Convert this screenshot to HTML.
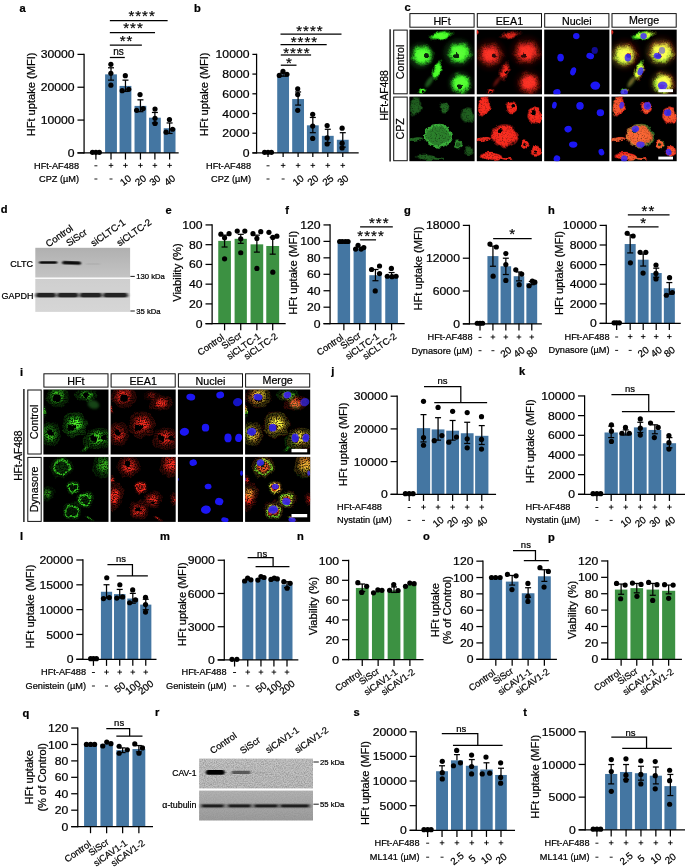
<!DOCTYPE html><html><head><meta charset="utf-8"><style>html,body{margin:0;padding:0;background:#fff}svg{display:block}text{font-family:"Liberation Sans",sans-serif;fill:#000;stroke:#000;stroke-width:0.22px}</style></head><body>
<svg width="685" height="867" viewBox="0 0 685 867">
<rect width="685" height="867" fill="#fff"/>
<defs>
<filter id="gtex" x="-15%" y="-15%" width="130%" height="130%" color-interpolation-filters="sRGB">
 <feTurbulence type="fractalNoise" baseFrequency="0.13" numOctaves="3" seed="5" result="lf"/>
 <feDisplacementMap in="SourceGraphic" in2="lf" scale="5" xChannelSelector="R" yChannelSelector="G" result="d"/>
 <feGaussianBlur in="d" stdDeviation="0.6" result="b"/>
 <feTurbulence type="fractalNoise" baseFrequency="0.75" numOctaves="2" seed="3" result="n"/>
 <feColorMatrix in="n" type="matrix" values="0 0 0 0 0  0 0 0 0 0  0 0 0 0 0  3.0 0 0 0 -0.7" result="na"/>
 <feComposite in="b" in2="na" operator="in" result="sp"/>
 <feComponentTransfer in="b" result="bd"><feFuncA type="table" tableValues="0 0.05 0.2 0.55 0.85 1"/></feComponentTransfer>
 <feMerge><feMergeNode in="bd"/><feMergeNode in="sp"/></feMerge>
</filter>
<filter id="stex" x="-15%" y="-15%" width="130%" height="130%" color-interpolation-filters="sRGB">
 <feTurbulence type="fractalNoise" baseFrequency="0.13" numOctaves="3" seed="5" result="lf"/>
 <feDisplacementMap in="SourceGraphic" in2="lf" scale="5" xChannelSelector="R" yChannelSelector="G" result="d"/>
 <feGaussianBlur in="d" stdDeviation="0.7" result="b"/>
 <feTurbulence type="fractalNoise" baseFrequency="0.7" numOctaves="2" seed="3" result="n"/>
 <feColorMatrix in="n" type="matrix" values="0 0 0 0 0  0 0 0 0 0  0 0 0 0 0  1.3 0 0 0 0.35" result="na"/>
 <feComposite in="b" in2="na" operator="in"/>
</filter>
<filter id="ptex" x="-15%" y="-15%" width="130%" height="130%" color-interpolation-filters="sRGB">
 <feTurbulence type="fractalNoise" baseFrequency="0.13" numOctaves="3" seed="9" result="lf"/>
 <feDisplacementMap in="SourceGraphic" in2="lf" scale="5" xChannelSelector="R" yChannelSelector="G" result="d"/>
 <feGaussianBlur in="d" stdDeviation="0.7" result="b"/>
 <feTurbulence type="fractalNoise" baseFrequency="0.8" numOctaves="2" seed="11" result="n"/>
 <feColorMatrix in="n" type="matrix" values="0 0 0 0 0  0 0 0 0 0  0 0 0 0 0  3.3 0 0 0 -1.0" result="na"/>
 <feComposite in="b" in2="na" operator="in" result="sp"/>
 <feComponentTransfer in="b" result="bd"><feFuncA type="linear" slope="0.22"/></feComponentTransfer>
 <feMerge><feMergeNode in="bd"/><feMergeNode in="sp"/></feMerge>
</filter>
<radialGradient id="gg"><stop offset="0" stop-color="#58ff30"/><stop offset="0.45" stop-color="#48ff28" stop-opacity="0.95"/><stop offset="0.72" stop-color="#30e020" stop-opacity="0.5"/><stop offset="1" stop-color="#20c018" stop-opacity="0"/></radialGradient>
<radialGradient id="ggd"><stop offset="0" stop-color="#3cb43c"/><stop offset="0.7" stop-color="#3cb43c" stop-opacity="0.9"/><stop offset="1" stop-color="#2c9c2c" stop-opacity="0"/></radialGradient>
<radialGradient id="gr"><stop offset="0" stop-color="#ff3022"/><stop offset="0.45" stop-color="#ff2a1e" stop-opacity="0.95"/><stop offset="0.72" stop-color="#f0241a" stop-opacity="0.5"/><stop offset="1" stop-color="#d01c14" stop-opacity="0"/></radialGradient>
<radialGradient id="grs"><stop offset="0" stop-color="#ff3022"/><stop offset="0.8" stop-color="#ff2a1e" stop-opacity="0.95"/><stop offset="1" stop-color="#e0201a" stop-opacity="0.2"/></radialGradient>
<filter id="soft" x="-20%" y="-20%" width="140%" height="140%"><feGaussianBlur stdDeviation="1.0"/></filter>
<filter id="soft2" x="-20%" y="-20%" width="140%" height="140%"><feGaussianBlur stdDeviation="0.6"/></filter>
<filter id="nuc" x="-20%" y="-20%" width="140%" height="140%"><feGaussianBlur stdDeviation="0.55"/></filter>
<filter id="band" x="-20%" y="-50%" width="140%" height="200%"><feGaussianBlur stdDeviation="0.9 0.7"/></filter>
<filter id="grain" x="0" y="0" width="100%" height="100%" color-interpolation-filters="sRGB">
 <feTurbulence type="fractalNoise" baseFrequency="0.9" numOctaves="2" seed="7" result="n"/>
 <feColorMatrix in="n" type="matrix" values="0 0 0 0 0  0 0 0 0 0  0 0 0 0 0  0.9 0 0 0 -0.3"/>
 <feComposite in2="SourceGraphic" operator="in"/>
</filter>
<radialGradient id="gr1"><stop offset="0" stop-color="#ff3022"/><stop offset="0.35" stop-color="#ff2a1e" stop-opacity="0.9"/><stop offset="0.65" stop-color="#f0241a" stop-opacity="0.45"/><stop offset="1" stop-color="#d01c14" stop-opacity="0"/></radialGradient>
</defs>
<text font-size="10.3" text-anchor="start" font-weight="bold" transform="translate(19.5 12) scale(1.08 1)">a</text>
<rect x="105.1" y="74.36" width="11.82" height="78.56" fill="#4476a2"/>
<rect x="119.55" y="85.92" width="11.82" height="67" fill="#4476a2"/>
<rect x="134.52" y="105.89" width="11.82" height="47.03" fill="#4476a2"/>
<rect x="148.98" y="117.71" width="11.82" height="35.21" fill="#4476a2"/>
<rect x="163.69" y="128.22" width="11.82" height="24.7" fill="#4476a2"/>
<line x1="84.08" y1="53.76" x2="84.08" y2="153.54" stroke="#000" stroke-width="1.25"/>
<line x1="77.48" y1="152.92" x2="178.67" y2="152.92" stroke="#000" stroke-width="1.25"/>
<line x1="77.48" y1="152.92" x2="84.08" y2="152.92" stroke="#000" stroke-width="1.25"/>
<text font-size="11.3" text-anchor="end" transform="translate(74.58 156.98) scale(1.08 1)">0</text>
<line x1="77.48" y1="120.07" x2="84.08" y2="120.07" stroke="#000" stroke-width="1.25"/>
<text font-size="11.3" text-anchor="end" transform="translate(74.58 124.14) scale(1.08 1)">10000</text>
<line x1="77.48" y1="87.23" x2="84.08" y2="87.23" stroke="#000" stroke-width="1.25"/>
<text font-size="11.3" text-anchor="end" transform="translate(74.58 91.3) scale(1.08 1)">20000</text>
<line x1="77.48" y1="54.39" x2="84.08" y2="54.39" stroke="#000" stroke-width="1.25"/>
<text font-size="11.3" text-anchor="end" transform="translate(74.58 58.46) scale(1.08 1)">30000</text>
<line x1="95.9" y1="152.92" x2="95.9" y2="159.52" stroke="#000" stroke-width="1.25"/>
<line x1="111.01" y1="152.92" x2="111.01" y2="159.52" stroke="#000" stroke-width="1.25"/>
<line x1="125.46" y1="152.92" x2="125.46" y2="159.52" stroke="#000" stroke-width="1.25"/>
<line x1="140.44" y1="152.92" x2="140.44" y2="159.52" stroke="#000" stroke-width="1.25"/>
<line x1="154.89" y1="152.92" x2="154.89" y2="159.52" stroke="#000" stroke-width="1.25"/>
<line x1="169.6" y1="152.92" x2="169.6" y2="159.52" stroke="#000" stroke-width="1.25"/>
<line x1="111.01" y1="67.79" x2="111.01" y2="80.14" stroke="#000" stroke-width="1.25"/>
<line x1="108.01" y1="67.79" x2="114.01" y2="67.79" stroke="#000" stroke-width="1.25"/>
<line x1="108.01" y1="80.14" x2="114.01" y2="80.14" stroke="#000" stroke-width="1.25"/>
<circle cx="110.88" cy="64.37" r="2.6" fill="#000"/>
<circle cx="110.88" cy="73.31" r="2.6" fill="#000"/>
<circle cx="110.88" cy="85.13" r="2.6" fill="#000"/>
<line x1="125.46" y1="80.14" x2="125.46" y2="91.43" stroke="#000" stroke-width="1.25"/>
<line x1="122.46" y1="80.14" x2="128.46" y2="80.14" stroke="#000" stroke-width="1.25"/>
<line x1="122.46" y1="91.43" x2="128.46" y2="91.43" stroke="#000" stroke-width="1.25"/>
<circle cx="125.33" cy="75.67" r="2.6" fill="#000"/>
<circle cx="122.18" cy="90.65" r="2.6" fill="#000"/>
<circle cx="128.74" cy="89.33" r="2.6" fill="#000"/>
<line x1="140.44" y1="99.84" x2="140.44" y2="111.67" stroke="#000" stroke-width="1.25"/>
<line x1="137.44" y1="99.84" x2="143.44" y2="99.84" stroke="#000" stroke-width="1.25"/>
<line x1="137.44" y1="111.67" x2="143.44" y2="111.67" stroke="#000" stroke-width="1.25"/>
<circle cx="140.04" cy="94.59" r="2.6" fill="#000"/>
<circle cx="136.63" cy="110.35" r="2.6" fill="#000"/>
<circle cx="143.19" cy="108.51" r="2.6" fill="#000"/>
<line x1="154.89" y1="112.45" x2="154.89" y2="122.96" stroke="#000" stroke-width="1.25"/>
<line x1="151.89" y1="112.45" x2="157.89" y2="112.45" stroke="#000" stroke-width="1.25"/>
<line x1="151.89" y1="122.96" x2="157.89" y2="122.96" stroke="#000" stroke-width="1.25"/>
<circle cx="155.02" cy="109.04" r="2.6" fill="#000"/>
<circle cx="155.02" cy="118.23" r="2.6" fill="#000"/>
<circle cx="155.02" cy="123.49" r="2.6" fill="#000"/>
<line x1="169.6" y1="122.96" x2="169.6" y2="133.47" stroke="#000" stroke-width="1.25"/>
<line x1="166.6" y1="122.96" x2="172.6" y2="122.96" stroke="#000" stroke-width="1.25"/>
<line x1="166.6" y1="133.47" x2="172.6" y2="133.47" stroke="#000" stroke-width="1.25"/>
<circle cx="169.47" cy="119.55" r="2.6" fill="#000"/>
<circle cx="166.05" cy="132.16" r="2.6" fill="#000"/>
<circle cx="172.62" cy="129.27" r="2.6" fill="#000"/>
<circle cx="92.49" cy="152.32" r="2.6" fill="#000"/>
<circle cx="95.9" cy="152.32" r="2.6" fill="#000"/>
<circle cx="99.32" cy="152.32" r="2.6" fill="#000"/>
<text font-size="10.3" text-anchor="middle" transform="translate(34.6 94.4) rotate(-90) scale(1.08 1)">HFt uptake (MFI)</text>
<text font-size="9.2" text-anchor="end" transform="translate(79 168.6)">HFt-AF488</text>
<line x1="94.4" y1="165.8" x2="97.4" y2="165.8" stroke="#000" stroke-width="0.9"/>
<line x1="108.71" y1="165.4" x2="113.31" y2="165.4" stroke="#000" stroke-width="0.9"/>
<line x1="111.01" y1="163.1" x2="111.01" y2="167.7" stroke="#000" stroke-width="0.9"/>
<line x1="123.16" y1="165.4" x2="127.76" y2="165.4" stroke="#000" stroke-width="0.9"/>
<line x1="125.46" y1="163.1" x2="125.46" y2="167.7" stroke="#000" stroke-width="0.9"/>
<line x1="138.14" y1="165.4" x2="142.74" y2="165.4" stroke="#000" stroke-width="0.9"/>
<line x1="140.44" y1="163.1" x2="140.44" y2="167.7" stroke="#000" stroke-width="0.9"/>
<line x1="152.59" y1="165.4" x2="157.19" y2="165.4" stroke="#000" stroke-width="0.9"/>
<line x1="154.89" y1="163.1" x2="154.89" y2="167.7" stroke="#000" stroke-width="0.9"/>
<line x1="167.3" y1="165.4" x2="171.9" y2="165.4" stroke="#000" stroke-width="0.9"/>
<line x1="169.6" y1="163.1" x2="169.6" y2="167.7" stroke="#000" stroke-width="0.9"/>
<text font-size="9.2" text-anchor="end" transform="translate(79 181.8)">CPZ (µM)</text>
<line x1="94.4" y1="179" x2="97.4" y2="179" stroke="#000" stroke-width="0.9"/>
<line x1="109.51" y1="179" x2="112.51" y2="179" stroke="#000" stroke-width="0.9"/>
<text font-size="9.8" text-anchor="middle" transform="translate(127.66 183) rotate(-38)">10</text>
<text font-size="9.8" text-anchor="middle" transform="translate(142.64 183) rotate(-38)">20</text>
<text font-size="9.8" text-anchor="middle" transform="translate(157.09 183) rotate(-38)">30</text>
<text font-size="9.8" text-anchor="middle" transform="translate(171.8 183) rotate(-38)">40</text>
<line x1="109.83" y1="57.5" x2="124.8" y2="57.5" stroke="#000" stroke-width="1.25"/>
<text font-size="10" text-anchor="middle" transform="translate(118.5 54.7)">ns</text>
<line x1="109.83" y1="45" x2="141.88" y2="45" stroke="#000" stroke-width="1.25"/>
<text font-size="15" text-anchor="middle" transform="translate(126.5 46.07)" letter-spacing="1">**</text>
<line x1="109.83" y1="32.5" x2="155.02" y2="32.5" stroke="#000" stroke-width="1.25"/>
<text font-size="15" text-anchor="middle" transform="translate(133.5 32.98)" letter-spacing="1">***</text>
<line x1="109.83" y1="20.7" x2="167.63" y2="20.7" stroke="#000" stroke-width="1.25"/>
<text font-size="15" text-anchor="middle" transform="translate(142.1 21.18)" letter-spacing="1">****</text>
<text font-size="10.3" text-anchor="start" font-weight="bold" transform="translate(194 12) scale(1.08 1)">b</text>
<rect x="277.21" y="74.36" width="11.82" height="78.56" fill="#4476a2"/>
<rect x="292.19" y="99.05" width="11.82" height="53.86" fill="#4476a2"/>
<rect x="306.9" y="125.33" width="11.82" height="27.59" fill="#4476a2"/>
<rect x="321.88" y="135.84" width="11.82" height="17.08" fill="#4476a2"/>
<rect x="336.86" y="139.78" width="11.82" height="13.14" fill="#4476a2"/>
<line x1="256.59" y1="53.76" x2="256.59" y2="153.54" stroke="#000" stroke-width="1.25"/>
<line x1="252.39" y1="152.92" x2="358.67" y2="152.92" stroke="#000" stroke-width="1.25"/>
<line x1="252.39" y1="152.92" x2="256.59" y2="152.92" stroke="#000" stroke-width="1.25"/>
<text font-size="11.3" text-anchor="end" transform="translate(249.49 156.98) scale(1.08 1)">0</text>
<line x1="252.39" y1="133.21" x2="256.59" y2="133.21" stroke="#000" stroke-width="1.25"/>
<text font-size="11.3" text-anchor="end" transform="translate(249.49 137.28) scale(1.08 1)">2000</text>
<line x1="252.39" y1="113.5" x2="256.59" y2="113.5" stroke="#000" stroke-width="1.25"/>
<text font-size="11.3" text-anchor="end" transform="translate(249.49 117.57) scale(1.08 1)">4000</text>
<line x1="252.39" y1="93.8" x2="256.59" y2="93.8" stroke="#000" stroke-width="1.25"/>
<text font-size="11.3" text-anchor="end" transform="translate(249.49 97.87) scale(1.08 1)">6000</text>
<line x1="252.39" y1="74.09" x2="256.59" y2="74.09" stroke="#000" stroke-width="1.25"/>
<text font-size="11.3" text-anchor="end" transform="translate(249.49 78.16) scale(1.08 1)">8000</text>
<line x1="252.39" y1="54.39" x2="256.59" y2="54.39" stroke="#000" stroke-width="1.25"/>
<text font-size="11.3" text-anchor="end" transform="translate(249.49 58.46) scale(1.08 1)">10000</text>
<line x1="268.02" y1="152.92" x2="268.02" y2="157.12" stroke="#000" stroke-width="1.25"/>
<line x1="283.13" y1="152.92" x2="283.13" y2="157.12" stroke="#000" stroke-width="1.25"/>
<line x1="298.1" y1="152.92" x2="298.1" y2="157.12" stroke="#000" stroke-width="1.25"/>
<line x1="312.82" y1="152.92" x2="312.82" y2="157.12" stroke="#000" stroke-width="1.25"/>
<line x1="327.79" y1="152.92" x2="327.79" y2="157.12" stroke="#000" stroke-width="1.25"/>
<line x1="342.77" y1="152.92" x2="342.77" y2="157.12" stroke="#000" stroke-width="1.25"/>
<line x1="283.13" y1="73.04" x2="283.13" y2="76.2" stroke="#000" stroke-width="1.25"/>
<line x1="280.13" y1="73.04" x2="286.13" y2="73.04" stroke="#000" stroke-width="1.25"/>
<line x1="280.13" y1="76.2" x2="286.13" y2="76.2" stroke="#000" stroke-width="1.25"/>
<circle cx="279.32" cy="75.41" r="2.6" fill="#000"/>
<circle cx="283" cy="71.47" r="2.6" fill="#000"/>
<circle cx="286.94" cy="74.36" r="2.6" fill="#000"/>
<line x1="298.1" y1="91.96" x2="298.1" y2="105.1" stroke="#000" stroke-width="1.25"/>
<line x1="295.1" y1="91.96" x2="301.1" y2="91.96" stroke="#000" stroke-width="1.25"/>
<line x1="295.1" y1="105.1" x2="301.1" y2="105.1" stroke="#000" stroke-width="1.25"/>
<circle cx="297.71" cy="88.81" r="2.6" fill="#000"/>
<circle cx="297.71" cy="94.59" r="2.6" fill="#000"/>
<circle cx="297.71" cy="110.35" r="2.6" fill="#000"/>
<line x1="312.82" y1="117.45" x2="312.82" y2="132.69" stroke="#000" stroke-width="1.25"/>
<line x1="309.82" y1="117.45" x2="315.82" y2="117.45" stroke="#000" stroke-width="1.25"/>
<line x1="309.82" y1="132.69" x2="315.82" y2="132.69" stroke="#000" stroke-width="1.25"/>
<circle cx="312.69" cy="114.29" r="2.6" fill="#000"/>
<circle cx="312.69" cy="126.12" r="2.6" fill="#000"/>
<circle cx="312.69" cy="138.47" r="2.6" fill="#000"/>
<line x1="327.79" y1="129.27" x2="327.79" y2="142.67" stroke="#000" stroke-width="1.25"/>
<line x1="324.79" y1="129.27" x2="330.79" y2="129.27" stroke="#000" stroke-width="1.25"/>
<line x1="324.79" y1="142.67" x2="330.79" y2="142.67" stroke="#000" stroke-width="1.25"/>
<circle cx="327.14" cy="125.59" r="2.6" fill="#000"/>
<circle cx="327.14" cy="137.94" r="2.6" fill="#000"/>
<circle cx="327.14" cy="143.98" r="2.6" fill="#000"/>
<line x1="342.77" y1="132.69" x2="342.77" y2="147.14" stroke="#000" stroke-width="1.25"/>
<line x1="339.77" y1="132.69" x2="345.77" y2="132.69" stroke="#000" stroke-width="1.25"/>
<line x1="339.77" y1="147.14" x2="345.77" y2="147.14" stroke="#000" stroke-width="1.25"/>
<circle cx="342.11" cy="128.22" r="2.6" fill="#000"/>
<circle cx="342.11" cy="143.19" r="2.6" fill="#000"/>
<circle cx="342.11" cy="147.92" r="2.6" fill="#000"/>
<circle cx="264.6" cy="152.32" r="2.6" fill="#000"/>
<circle cx="268.02" cy="152.32" r="2.6" fill="#000"/>
<circle cx="271.43" cy="152.32" r="2.6" fill="#000"/>
<text font-size="10.3" text-anchor="middle" transform="translate(207.7 94.4) rotate(-90) scale(1.08 1)">HFt uptake (MFI)</text>
<text font-size="9.2" text-anchor="end" transform="translate(251 168.6)">HFt-AF488</text>
<line x1="266.52" y1="165.8" x2="269.52" y2="165.8" stroke="#000" stroke-width="0.9"/>
<line x1="280.83" y1="165.4" x2="285.43" y2="165.4" stroke="#000" stroke-width="0.9"/>
<line x1="283.13" y1="163.1" x2="283.13" y2="167.7" stroke="#000" stroke-width="0.9"/>
<line x1="295.8" y1="165.4" x2="300.4" y2="165.4" stroke="#000" stroke-width="0.9"/>
<line x1="298.1" y1="163.1" x2="298.1" y2="167.7" stroke="#000" stroke-width="0.9"/>
<line x1="310.52" y1="165.4" x2="315.12" y2="165.4" stroke="#000" stroke-width="0.9"/>
<line x1="312.82" y1="163.1" x2="312.82" y2="167.7" stroke="#000" stroke-width="0.9"/>
<line x1="325.49" y1="165.4" x2="330.09" y2="165.4" stroke="#000" stroke-width="0.9"/>
<line x1="327.79" y1="163.1" x2="327.79" y2="167.7" stroke="#000" stroke-width="0.9"/>
<line x1="340.47" y1="165.4" x2="345.07" y2="165.4" stroke="#000" stroke-width="0.9"/>
<line x1="342.77" y1="163.1" x2="342.77" y2="167.7" stroke="#000" stroke-width="0.9"/>
<text font-size="9.2" text-anchor="end" transform="translate(251 181.8)">CPZ (µM)</text>
<line x1="266.52" y1="179" x2="269.52" y2="179" stroke="#000" stroke-width="0.9"/>
<line x1="281.63" y1="179" x2="284.63" y2="179" stroke="#000" stroke-width="0.9"/>
<text font-size="9.8" text-anchor="middle" transform="translate(300.3 183) rotate(-38)">10</text>
<text font-size="9.8" text-anchor="middle" transform="translate(315.02 183) rotate(-38)">20</text>
<text font-size="9.8" text-anchor="middle" transform="translate(329.99 183) rotate(-38)">25</text>
<text font-size="9.8" text-anchor="middle" transform="translate(344.97 183) rotate(-38)">30</text>
<line x1="280.8" y1="65.2" x2="296.5" y2="65.2" stroke="#000" stroke-width="1.25"/>
<text font-size="15" text-anchor="middle" transform="translate(289.4 67.67)" letter-spacing="1">*</text>
<line x1="280.8" y1="55" x2="311.1" y2="55" stroke="#000" stroke-width="1.25"/>
<text font-size="15" text-anchor="middle" transform="translate(296.8 57.57)" letter-spacing="1">****</text>
<line x1="280.5" y1="44.5" x2="326.7" y2="44.5" stroke="#000" stroke-width="1.25"/>
<text font-size="15" text-anchor="middle" transform="translate(304.4 46.77)" letter-spacing="1">****</text>
<line x1="280.5" y1="34.2" x2="341.5" y2="34.2" stroke="#000" stroke-width="1.25"/>
<text font-size="15" text-anchor="middle" transform="translate(309.9 36.27)" letter-spacing="1">****</text>
<text font-size="10.3" text-anchor="start" font-weight="bold" transform="translate(165.5 214) scale(1.08 1)">e</text>
<rect x="218.25" y="240.87" width="12.67" height="82.77" fill="#3c9142"/>
<rect x="234.6" y="238.83" width="12.26" height="84.82" fill="#3c9142"/>
<rect x="250.54" y="244.35" width="12.67" height="79.3" fill="#3c9142"/>
<rect x="266.27" y="245.98" width="12.88" height="77.66" fill="#3c9142"/>
<line x1="212.12" y1="224.31" x2="212.12" y2="324.27" stroke="#000" stroke-width="1.25"/>
<line x1="205.52" y1="323.65" x2="285.69" y2="323.65" stroke="#000" stroke-width="1.25"/>
<line x1="205.52" y1="323.65" x2="212.12" y2="323.65" stroke="#000" stroke-width="1.25"/>
<text font-size="11.3" text-anchor="end" transform="translate(202.62 327.71) scale(1.08 1)">0</text>
<line x1="205.52" y1="303.9" x2="212.12" y2="303.9" stroke="#000" stroke-width="1.25"/>
<text font-size="11.3" text-anchor="end" transform="translate(202.62 307.97) scale(1.08 1)">20</text>
<line x1="205.52" y1="284.16" x2="212.12" y2="284.16" stroke="#000" stroke-width="1.25"/>
<text font-size="11.3" text-anchor="end" transform="translate(202.62 288.23) scale(1.08 1)">40</text>
<line x1="205.52" y1="264.42" x2="212.12" y2="264.42" stroke="#000" stroke-width="1.25"/>
<text font-size="11.3" text-anchor="end" transform="translate(202.62 268.49) scale(1.08 1)">60</text>
<line x1="205.52" y1="244.68" x2="212.12" y2="244.68" stroke="#000" stroke-width="1.25"/>
<text font-size="11.3" text-anchor="end" transform="translate(202.62 248.74) scale(1.08 1)">80</text>
<line x1="205.52" y1="224.93" x2="212.12" y2="224.93" stroke="#000" stroke-width="1.25"/>
<text font-size="11.3" text-anchor="end" transform="translate(202.62 229) scale(1.08 1)">100</text>
<line x1="224.58" y1="323.65" x2="224.58" y2="330.25" stroke="#000" stroke-width="1.25"/>
<line x1="240.73" y1="323.65" x2="240.73" y2="330.25" stroke="#000" stroke-width="1.25"/>
<line x1="256.87" y1="323.65" x2="256.87" y2="330.25" stroke="#000" stroke-width="1.25"/>
<line x1="272.71" y1="323.65" x2="272.71" y2="330.25" stroke="#000" stroke-width="1.25"/>
<line x1="224.58" y1="235.15" x2="224.58" y2="247.01" stroke="#000" stroke-width="1.25"/>
<line x1="221.58" y1="235.15" x2="227.58" y2="235.15" stroke="#000" stroke-width="1.25"/>
<line x1="221.58" y1="247.01" x2="227.58" y2="247.01" stroke="#000" stroke-width="1.25"/>
<circle cx="220.9" cy="234.13" r="2.6" fill="#000"/>
<circle cx="229.08" cy="233.72" r="2.6" fill="#000"/>
<circle cx="224.58" cy="237.81" r="2.6" fill="#000"/>
<circle cx="224.58" cy="258.86" r="2.6" fill="#000"/>
<line x1="240.73" y1="234.33" x2="240.73" y2="243.33" stroke="#000" stroke-width="1.25"/>
<line x1="237.73" y1="234.33" x2="243.73" y2="234.33" stroke="#000" stroke-width="1.25"/>
<line x1="237.73" y1="243.33" x2="243.73" y2="243.33" stroke="#000" stroke-width="1.25"/>
<circle cx="237.25" cy="231.06" r="2.6" fill="#000"/>
<circle cx="244.82" cy="231.06" r="2.6" fill="#000"/>
<circle cx="240.73" cy="238.83" r="2.6" fill="#000"/>
<circle cx="240.73" cy="252.73" r="2.6" fill="#000"/>
<line x1="256.87" y1="235.15" x2="256.87" y2="252.12" stroke="#000" stroke-width="1.25"/>
<line x1="253.87" y1="235.15" x2="259.87" y2="235.15" stroke="#000" stroke-width="1.25"/>
<line x1="253.87" y1="252.12" x2="259.87" y2="252.12" stroke="#000" stroke-width="1.25"/>
<circle cx="252.99" cy="233.72" r="2.6" fill="#000"/>
<circle cx="260.76" cy="231.68" r="2.6" fill="#000"/>
<circle cx="256.87" cy="238.42" r="2.6" fill="#000"/>
<circle cx="256.87" cy="268.47" r="2.6" fill="#000"/>
<line x1="272.71" y1="237.4" x2="272.71" y2="254.16" stroke="#000" stroke-width="1.25"/>
<line x1="269.71" y1="237.4" x2="275.71" y2="237.4" stroke="#000" stroke-width="1.25"/>
<line x1="269.71" y1="254.16" x2="275.71" y2="254.16" stroke="#000" stroke-width="1.25"/>
<circle cx="268.93" cy="232.29" r="2.6" fill="#000"/>
<circle cx="276.9" cy="236.17" r="2.6" fill="#000"/>
<circle cx="272.81" cy="237.4" r="2.6" fill="#000"/>
<circle cx="272.81" cy="272.14" r="2.6" fill="#000"/>
<text font-size="10.3" text-anchor="middle" transform="translate(181 272.6) rotate(-90) scale(1.08 1)">Viability (%)</text>
<text font-size="9.3" text-anchor="end" transform="translate(224.78 338.75) rotate(-35)">Control</text>
<text font-size="9.3" text-anchor="end" transform="translate(242.53 336.75) rotate(-35)">SiScr</text>
<text font-size="9.3" text-anchor="end" transform="translate(261.17 337.75) rotate(-35)">siCLTC-1</text>
<text font-size="9.3" text-anchor="end" transform="translate(278.31 337.75) rotate(-35)">siCLTC-2</text>
<text font-size="10.3" text-anchor="start" font-weight="bold" transform="translate(285.2 214) scale(1.08 1)">f</text>
<rect x="337.63" y="241.49" width="12.47" height="82.16" fill="#4476a2"/>
<rect x="353.57" y="248.64" width="12.26" height="75.01" fill="#4476a2"/>
<rect x="369.31" y="275.21" width="12.26" height="48.44" fill="#4476a2"/>
<rect x="385.25" y="276.03" width="12.67" height="47.62" fill="#4476a2"/>
<line x1="330.07" y1="224.31" x2="330.07" y2="324.27" stroke="#000" stroke-width="1.25"/>
<line x1="323.47" y1="323.65" x2="404.67" y2="323.65" stroke="#000" stroke-width="1.25"/>
<line x1="323.47" y1="323.65" x2="330.07" y2="323.65" stroke="#000" stroke-width="1.25"/>
<text font-size="11.3" text-anchor="end" transform="translate(320.57 327.71) scale(1.08 1)">0</text>
<line x1="323.47" y1="307.19" x2="330.07" y2="307.19" stroke="#000" stroke-width="1.25"/>
<text font-size="11.3" text-anchor="end" transform="translate(320.57 311.26) scale(1.08 1)">20</text>
<line x1="323.47" y1="290.74" x2="330.07" y2="290.74" stroke="#000" stroke-width="1.25"/>
<text font-size="11.3" text-anchor="end" transform="translate(320.57 294.81) scale(1.08 1)">40</text>
<line x1="323.47" y1="274.29" x2="330.07" y2="274.29" stroke="#000" stroke-width="1.25"/>
<text font-size="11.3" text-anchor="end" transform="translate(320.57 278.36) scale(1.08 1)">60</text>
<line x1="323.47" y1="257.84" x2="330.07" y2="257.84" stroke="#000" stroke-width="1.25"/>
<text font-size="11.3" text-anchor="end" transform="translate(320.57 261.91) scale(1.08 1)">80</text>
<line x1="323.47" y1="241.39" x2="330.07" y2="241.39" stroke="#000" stroke-width="1.25"/>
<text font-size="11.3" text-anchor="end" transform="translate(320.57 245.45) scale(1.08 1)">100</text>
<line x1="323.47" y1="224.93" x2="330.07" y2="224.93" stroke="#000" stroke-width="1.25"/>
<text font-size="11.3" text-anchor="end" transform="translate(320.57 229) scale(1.08 1)">120</text>
<line x1="343.87" y1="323.65" x2="343.87" y2="330.25" stroke="#000" stroke-width="1.25"/>
<line x1="359.71" y1="323.65" x2="359.71" y2="330.25" stroke="#000" stroke-width="1.25"/>
<line x1="375.44" y1="323.65" x2="375.44" y2="330.25" stroke="#000" stroke-width="1.25"/>
<line x1="391.59" y1="323.65" x2="391.59" y2="330.25" stroke="#000" stroke-width="1.25"/>
<circle cx="339.68" cy="241.49" r="2.6" fill="#000"/>
<circle cx="342.33" cy="241.49" r="2.6" fill="#000"/>
<circle cx="345.4" cy="241.49" r="2.6" fill="#000"/>
<circle cx="348.06" cy="241.49" r="2.6" fill="#000"/>
<circle cx="355.62" cy="249.05" r="2.6" fill="#000"/>
<circle cx="358.07" cy="245.37" r="2.6" fill="#000"/>
<circle cx="361.14" cy="249.05" r="2.6" fill="#000"/>
<circle cx="363.79" cy="247.62" r="2.6" fill="#000"/>
<line x1="375.44" y1="269.49" x2="375.44" y2="280.73" stroke="#000" stroke-width="1.25"/>
<line x1="372.44" y1="269.49" x2="378.44" y2="269.49" stroke="#000" stroke-width="1.25"/>
<line x1="372.44" y1="280.73" x2="378.44" y2="280.73" stroke="#000" stroke-width="1.25"/>
<circle cx="371.56" cy="269.49" r="2.6" fill="#000"/>
<circle cx="379.53" cy="266.01" r="2.6" fill="#000"/>
<circle cx="379.53" cy="273.57" r="2.6" fill="#000"/>
<circle cx="375.24" cy="290.95" r="2.6" fill="#000"/>
<line x1="391.59" y1="272.55" x2="391.59" y2="277.25" stroke="#000" stroke-width="1.25"/>
<line x1="388.59" y1="272.55" x2="394.59" y2="272.55" stroke="#000" stroke-width="1.25"/>
<line x1="388.59" y1="277.25" x2="394.59" y2="277.25" stroke="#000" stroke-width="1.25"/>
<circle cx="387.3" cy="276.23" r="2.6" fill="#000"/>
<circle cx="391.38" cy="268.47" r="2.6" fill="#000"/>
<circle cx="392" cy="276.64" r="2.6" fill="#000"/>
<circle cx="396.08" cy="276.23" r="2.6" fill="#000"/>
<text font-size="10.3" text-anchor="middle" transform="translate(297.4 272.8) rotate(-90) scale(1.08 1)">HFt uptake (MFI)</text>
<text font-size="9.3" text-anchor="end" transform="translate(344.07 338.75) rotate(-35)">Control</text>
<text font-size="9.3" text-anchor="end" transform="translate(361.51 336.75) rotate(-35)">SiScr</text>
<text font-size="9.3" text-anchor="end" transform="translate(379.74 337.75) rotate(-35)">siCLTC-1</text>
<text font-size="9.3" text-anchor="end" transform="translate(397.19 337.75) rotate(-35)">siCLTC-2</text>
<line x1="360.11" y1="226.98" x2="392.81" y2="226.98" stroke="#000" stroke-width="1.25"/>
<text font-size="15" text-anchor="middle" transform="translate(379.21 228.13)" letter-spacing="1">***</text>
<line x1="360.11" y1="239.85" x2="376.06" y2="239.85" stroke="#000" stroke-width="1.25"/>
<text font-size="15" text-anchor="middle" transform="translate(371.04 241.42)" letter-spacing="1">****</text>
<text font-size="10.3" text-anchor="start" font-weight="bold" transform="translate(404 214) scale(1.08 1)">g</text>
<rect x="487.43" y="256.1" width="11.01" height="67.74" fill="#4476a2"/>
<rect x="500.55" y="266.26" width="10.58" height="57.58" fill="#4476a2"/>
<rect x="513.67" y="276.21" width="10.58" height="47.63" fill="#4476a2"/>
<rect x="526.38" y="283.19" width="10.8" height="40.64" fill="#4476a2"/>
<line x1="469.43" y1="224.78" x2="469.43" y2="324.46" stroke="#000" stroke-width="1.25"/>
<line x1="462.83" y1="323.84" x2="541.83" y2="323.84" stroke="#000" stroke-width="1.25"/>
<line x1="462.83" y1="323.84" x2="469.43" y2="323.84" stroke="#000" stroke-width="1.25"/>
<text font-size="11.3" text-anchor="end" transform="translate(459.93 327.9) scale(1.08 1)">0</text>
<line x1="462.83" y1="291.02" x2="469.43" y2="291.02" stroke="#000" stroke-width="1.25"/>
<text font-size="11.3" text-anchor="end" transform="translate(459.93 295.09) scale(1.08 1)">6000</text>
<line x1="462.83" y1="258.21" x2="469.43" y2="258.21" stroke="#000" stroke-width="1.25"/>
<text font-size="11.3" text-anchor="end" transform="translate(459.93 262.28) scale(1.08 1)">12000</text>
<line x1="462.83" y1="225.4" x2="469.43" y2="225.4" stroke="#000" stroke-width="1.25"/>
<text font-size="11.3" text-anchor="end" transform="translate(459.93 229.47) scale(1.08 1)">18000</text>
<line x1="480.02" y1="323.84" x2="480.02" y2="330.44" stroke="#000" stroke-width="1.25"/>
<line x1="492.93" y1="323.84" x2="492.93" y2="330.44" stroke="#000" stroke-width="1.25"/>
<line x1="505.84" y1="323.84" x2="505.84" y2="330.44" stroke="#000" stroke-width="1.25"/>
<line x1="518.97" y1="323.84" x2="518.97" y2="330.44" stroke="#000" stroke-width="1.25"/>
<line x1="531.77" y1="323.84" x2="531.77" y2="330.44" stroke="#000" stroke-width="1.25"/>
<line x1="492.93" y1="246.15" x2="492.93" y2="266.26" stroke="#000" stroke-width="1.25"/>
<line x1="489.93" y1="246.15" x2="495.93" y2="246.15" stroke="#000" stroke-width="1.25"/>
<line x1="489.93" y1="266.26" x2="495.93" y2="266.26" stroke="#000" stroke-width="1.25"/>
<circle cx="489.97" cy="244.03" r="2.6" fill="#000"/>
<circle cx="496.32" cy="246.99" r="2.6" fill="#000"/>
<circle cx="493.14" cy="276.21" r="2.6" fill="#000"/>
<line x1="505.84" y1="258.21" x2="505.84" y2="274.51" stroke="#000" stroke-width="1.25"/>
<line x1="502.84" y1="258.21" x2="508.84" y2="258.21" stroke="#000" stroke-width="1.25"/>
<line x1="502.84" y1="274.51" x2="508.84" y2="274.51" stroke="#000" stroke-width="1.25"/>
<circle cx="505.84" cy="253.56" r="2.6" fill="#000"/>
<circle cx="505.84" cy="264.56" r="2.6" fill="#000"/>
<circle cx="505.84" cy="280.44" r="2.6" fill="#000"/>
<line x1="518.97" y1="271.97" x2="518.97" y2="280.86" stroke="#000" stroke-width="1.25"/>
<line x1="515.97" y1="271.97" x2="521.97" y2="271.97" stroke="#000" stroke-width="1.25"/>
<line x1="515.97" y1="280.86" x2="521.97" y2="280.86" stroke="#000" stroke-width="1.25"/>
<circle cx="515.79" cy="269.86" r="2.6" fill="#000"/>
<circle cx="521.72" cy="274.09" r="2.6" fill="#000"/>
<circle cx="519.18" cy="284.67" r="2.6" fill="#000"/>
<line x1="531.77" y1="281.5" x2="531.77" y2="284.67" stroke="#000" stroke-width="1.25"/>
<line x1="528.77" y1="281.5" x2="534.77" y2="281.5" stroke="#000" stroke-width="1.25"/>
<line x1="528.77" y1="284.67" x2="534.77" y2="284.67" stroke="#000" stroke-width="1.25"/>
<circle cx="529.13" cy="285.73" r="2.6" fill="#000"/>
<circle cx="532.3" cy="281.08" r="2.6" fill="#000"/>
<circle cx="534.84" cy="282.13" r="2.6" fill="#000"/>
<circle cx="477.27" cy="323.24" r="2.6" fill="#000"/>
<circle cx="480.02" cy="323.24" r="2.6" fill="#000"/>
<circle cx="482.56" cy="323.24" r="2.6" fill="#000"/>
<text font-size="10.3" text-anchor="middle" transform="translate(421.5 268.5) rotate(-90) scale(1.08 1)">HFt uptake (MFI)</text>
<text font-size="9.2" text-anchor="end" transform="translate(472.5 340.2)">HFt-AF488</text>
<line x1="478.52" y1="337.4" x2="481.52" y2="337.4" stroke="#000" stroke-width="0.9"/>
<line x1="490.63" y1="337" x2="495.23" y2="337" stroke="#000" stroke-width="0.9"/>
<line x1="492.93" y1="334.7" x2="492.93" y2="339.3" stroke="#000" stroke-width="0.9"/>
<line x1="503.54" y1="337" x2="508.14" y2="337" stroke="#000" stroke-width="0.9"/>
<line x1="505.84" y1="334.7" x2="505.84" y2="339.3" stroke="#000" stroke-width="0.9"/>
<line x1="516.67" y1="337" x2="521.27" y2="337" stroke="#000" stroke-width="0.9"/>
<line x1="518.97" y1="334.7" x2="518.97" y2="339.3" stroke="#000" stroke-width="0.9"/>
<line x1="529.47" y1="337" x2="534.07" y2="337" stroke="#000" stroke-width="0.9"/>
<line x1="531.77" y1="334.7" x2="531.77" y2="339.3" stroke="#000" stroke-width="0.9"/>
<text font-size="9.2" text-anchor="end" transform="translate(472.5 353.5)">Dynasore (µM)</text>
<line x1="478.52" y1="350.7" x2="481.52" y2="350.7" stroke="#000" stroke-width="0.9"/>
<line x1="491.43" y1="350.7" x2="494.43" y2="350.7" stroke="#000" stroke-width="0.9"/>
<text font-size="9.8" text-anchor="middle" transform="translate(508.04 354.7) rotate(-38)">20</text>
<text font-size="9.8" text-anchor="middle" transform="translate(521.17 354.7) rotate(-38)">40</text>
<text font-size="9.8" text-anchor="middle" transform="translate(533.97 354.7) rotate(-38)">80</text>
<line x1="493.14" y1="238.74" x2="531.67" y2="238.74" stroke="#000" stroke-width="1.25"/>
<text font-size="15" text-anchor="middle" transform="translate(512.69 239.49)" letter-spacing="1">*</text>
<text font-size="10.3" text-anchor="start" font-weight="bold" transform="translate(548 214) scale(1.08 1)">h</text>
<rect x="624.67" y="244.03" width="11.01" height="79.38" fill="#4476a2"/>
<rect x="637.8" y="259.7" width="10.8" height="63.72" fill="#4476a2"/>
<rect x="650.71" y="273.03" width="11.01" height="50.38" fill="#4476a2"/>
<rect x="663.84" y="288.27" width="11.01" height="35.14" fill="#4476a2"/>
<line x1="606.26" y1="224.78" x2="606.26" y2="324.04" stroke="#000" stroke-width="1.25"/>
<line x1="599.66" y1="323.41" x2="680.77" y2="323.41" stroke="#000" stroke-width="1.25"/>
<line x1="599.66" y1="323.41" x2="606.26" y2="323.41" stroke="#000" stroke-width="1.25"/>
<text font-size="11.3" text-anchor="end" transform="translate(596.76 327.48) scale(1.08 1)">0</text>
<line x1="599.66" y1="303.81" x2="606.26" y2="303.81" stroke="#000" stroke-width="1.25"/>
<text font-size="11.3" text-anchor="end" transform="translate(596.76 307.88) scale(1.08 1)">2000</text>
<line x1="599.66" y1="284.21" x2="606.26" y2="284.21" stroke="#000" stroke-width="1.25"/>
<text font-size="11.3" text-anchor="end" transform="translate(596.76 288.28) scale(1.08 1)">4000</text>
<line x1="599.66" y1="264.61" x2="606.26" y2="264.61" stroke="#000" stroke-width="1.25"/>
<text font-size="11.3" text-anchor="end" transform="translate(596.76 268.67) scale(1.08 1)">6000</text>
<line x1="599.66" y1="245" x2="606.26" y2="245" stroke="#000" stroke-width="1.25"/>
<text font-size="11.3" text-anchor="end" transform="translate(596.76 249.07) scale(1.08 1)">8000</text>
<line x1="599.66" y1="225.4" x2="606.26" y2="225.4" stroke="#000" stroke-width="1.25"/>
<text font-size="11.3" text-anchor="end" transform="translate(596.76 229.47) scale(1.08 1)">10000</text>
<line x1="616.63" y1="323.41" x2="616.63" y2="330.01" stroke="#000" stroke-width="1.25"/>
<line x1="630.18" y1="323.41" x2="630.18" y2="330.01" stroke="#000" stroke-width="1.25"/>
<line x1="643.2" y1="323.41" x2="643.2" y2="330.01" stroke="#000" stroke-width="1.25"/>
<line x1="656.22" y1="323.41" x2="656.22" y2="330.01" stroke="#000" stroke-width="1.25"/>
<line x1="669.34" y1="323.41" x2="669.34" y2="330.01" stroke="#000" stroke-width="1.25"/>
<line x1="630.18" y1="234.93" x2="630.18" y2="252.92" stroke="#000" stroke-width="1.25"/>
<line x1="627.18" y1="234.93" x2="633.18" y2="234.93" stroke="#000" stroke-width="1.25"/>
<line x1="627.18" y1="252.92" x2="633.18" y2="252.92" stroke="#000" stroke-width="1.25"/>
<circle cx="627.21" cy="233.23" r="2.6" fill="#000"/>
<circle cx="633.14" cy="235.99" r="2.6" fill="#000"/>
<circle cx="630.39" cy="262.87" r="2.6" fill="#000"/>
<line x1="643.2" y1="253.98" x2="643.2" y2="266.05" stroke="#000" stroke-width="1.25"/>
<line x1="640.2" y1="253.98" x2="646.2" y2="253.98" stroke="#000" stroke-width="1.25"/>
<line x1="640.2" y1="266.05" x2="646.2" y2="266.05" stroke="#000" stroke-width="1.25"/>
<circle cx="640.13" cy="252.29" r="2.6" fill="#000"/>
<circle cx="645.84" cy="252.29" r="2.6" fill="#000"/>
<circle cx="643.09" cy="273.03" r="2.6" fill="#000"/>
<line x1="656.22" y1="268.16" x2="656.22" y2="277.27" stroke="#000" stroke-width="1.25"/>
<line x1="653.22" y1="268.16" x2="659.22" y2="268.16" stroke="#000" stroke-width="1.25"/>
<line x1="653.22" y1="277.27" x2="659.22" y2="277.27" stroke="#000" stroke-width="1.25"/>
<circle cx="656" cy="264.99" r="2.6" fill="#000"/>
<circle cx="656" cy="273.45" r="2.6" fill="#000"/>
<circle cx="656" cy="278.96" r="2.6" fill="#000"/>
<line x1="669.34" y1="282.56" x2="669.34" y2="294.2" stroke="#000" stroke-width="1.25"/>
<line x1="666.34" y1="282.56" x2="672.34" y2="282.56" stroke="#000" stroke-width="1.25"/>
<line x1="666.34" y1="294.2" x2="672.34" y2="294.2" stroke="#000" stroke-width="1.25"/>
<circle cx="669.55" cy="277.69" r="2.6" fill="#000"/>
<circle cx="666.38" cy="295.26" r="2.6" fill="#000"/>
<circle cx="672.3" cy="292.51" r="2.6" fill="#000"/>
<circle cx="614.09" cy="322.81" r="2.6" fill="#000"/>
<circle cx="616.63" cy="322.81" r="2.6" fill="#000"/>
<circle cx="619.38" cy="322.81" r="2.6" fill="#000"/>
<text font-size="10.3" text-anchor="middle" transform="translate(563 273) rotate(-90) scale(1.08 1)">HFt uptake (MFI)</text>
<text font-size="9.2" text-anchor="end" transform="translate(609.5 339.8)">HFt-AF488</text>
<line x1="615.13" y1="337" x2="618.13" y2="337" stroke="#000" stroke-width="0.9"/>
<line x1="627.88" y1="336.6" x2="632.48" y2="336.6" stroke="#000" stroke-width="0.9"/>
<line x1="630.18" y1="334.3" x2="630.18" y2="338.9" stroke="#000" stroke-width="0.9"/>
<line x1="640.9" y1="336.6" x2="645.5" y2="336.6" stroke="#000" stroke-width="0.9"/>
<line x1="643.2" y1="334.3" x2="643.2" y2="338.9" stroke="#000" stroke-width="0.9"/>
<line x1="653.92" y1="336.6" x2="658.52" y2="336.6" stroke="#000" stroke-width="0.9"/>
<line x1="656.22" y1="334.3" x2="656.22" y2="338.9" stroke="#000" stroke-width="0.9"/>
<line x1="667.04" y1="336.6" x2="671.64" y2="336.6" stroke="#000" stroke-width="0.9"/>
<line x1="669.34" y1="334.3" x2="669.34" y2="338.9" stroke="#000" stroke-width="0.9"/>
<text font-size="9.2" text-anchor="end" transform="translate(609.5 353.2)">Dynasore (µM)</text>
<line x1="615.13" y1="350.4" x2="618.13" y2="350.4" stroke="#000" stroke-width="0.9"/>
<line x1="628.68" y1="350.4" x2="631.68" y2="350.4" stroke="#000" stroke-width="0.9"/>
<text font-size="9.8" text-anchor="middle" transform="translate(645.4 354.4) rotate(-38)">20</text>
<text font-size="9.8" text-anchor="middle" transform="translate(658.42 354.4) rotate(-38)">40</text>
<text font-size="9.8" text-anchor="middle" transform="translate(671.54 354.4) rotate(-38)">80</text>
<line x1="627.85" y1="214.82" x2="669.55" y2="214.82" stroke="#000" stroke-width="1.25"/>
<text font-size="15" text-anchor="middle" transform="translate(648.46 216.2)" letter-spacing="1">**</text>
<line x1="627.85" y1="226.88" x2="658.54" y2="226.88" stroke="#000" stroke-width="1.25"/>
<text font-size="15" text-anchor="middle" transform="translate(643.59 228.48)" letter-spacing="1">*</text>
<text font-size="10.3" text-anchor="start" font-weight="bold" transform="translate(331.3 375.4) scale(1.08 1)">j</text>
<rect x="416.87" y="428.14" width="13.29" height="66.17" fill="#4476a2"/>
<rect x="431.69" y="429.42" width="12.77" height="64.9" fill="#4476a2"/>
<rect x="446.25" y="430.7" width="12.77" height="63.62" fill="#4476a2"/>
<rect x="460.81" y="433.25" width="12.77" height="61.06" fill="#4476a2"/>
<rect x="475.12" y="435.81" width="13.29" height="58.51" fill="#4476a2"/>
<line x1="397.19" y1="395.58" x2="397.19" y2="494.94" stroke="#000" stroke-width="1.25"/>
<line x1="390.59" y1="494.32" x2="496.07" y2="494.32" stroke="#000" stroke-width="1.25"/>
<line x1="390.59" y1="494.32" x2="397.19" y2="494.32" stroke="#000" stroke-width="1.25"/>
<text font-size="11.3" text-anchor="end" transform="translate(387.69 498.38) scale(1.08 1)">0</text>
<line x1="390.59" y1="461.61" x2="397.19" y2="461.61" stroke="#000" stroke-width="1.25"/>
<text font-size="11.3" text-anchor="end" transform="translate(387.69 465.68) scale(1.08 1)">10000</text>
<line x1="390.59" y1="428.91" x2="397.19" y2="428.91" stroke="#000" stroke-width="1.25"/>
<text font-size="11.3" text-anchor="end" transform="translate(387.69 432.98) scale(1.08 1)">20000</text>
<line x1="390.59" y1="396.21" x2="397.19" y2="396.21" stroke="#000" stroke-width="1.25"/>
<text font-size="11.3" text-anchor="end" transform="translate(387.69 400.27) scale(1.08 1)">30000</text>
<line x1="409.2" y1="494.32" x2="409.2" y2="500.92" stroke="#000" stroke-width="1.25"/>
<line x1="423.51" y1="494.32" x2="423.51" y2="500.92" stroke="#000" stroke-width="1.25"/>
<line x1="438.07" y1="494.32" x2="438.07" y2="500.92" stroke="#000" stroke-width="1.25"/>
<line x1="452.64" y1="494.32" x2="452.64" y2="500.92" stroke="#000" stroke-width="1.25"/>
<line x1="467.2" y1="494.32" x2="467.2" y2="500.92" stroke="#000" stroke-width="1.25"/>
<line x1="481.76" y1="494.32" x2="481.76" y2="500.92" stroke="#000" stroke-width="1.25"/>
<line x1="423.51" y1="414.6" x2="423.51" y2="441.94" stroke="#000" stroke-width="1.25"/>
<line x1="420.51" y1="414.6" x2="426.51" y2="414.6" stroke="#000" stroke-width="1.25"/>
<line x1="420.51" y1="441.94" x2="426.51" y2="441.94" stroke="#000" stroke-width="1.25"/>
<circle cx="423.51" cy="401.32" r="2.6" fill="#000"/>
<circle cx="423.51" cy="437.6" r="2.6" fill="#000"/>
<circle cx="423.51" cy="445.26" r="2.6" fill="#000"/>
<line x1="438.07" y1="417.67" x2="438.07" y2="440.15" stroke="#000" stroke-width="1.25"/>
<line x1="435.07" y1="417.67" x2="441.07" y2="417.67" stroke="#000" stroke-width="1.25"/>
<line x1="435.07" y1="440.15" x2="441.07" y2="440.15" stroke="#000" stroke-width="1.25"/>
<circle cx="438.07" cy="407.45" r="2.6" fill="#000"/>
<circle cx="434.24" cy="440.66" r="2.6" fill="#000"/>
<circle cx="441.91" cy="435.55" r="2.6" fill="#000"/>
<line x1="452.64" y1="420.48" x2="452.64" y2="440.15" stroke="#000" stroke-width="1.25"/>
<line x1="449.64" y1="420.48" x2="455.64" y2="420.48" stroke="#000" stroke-width="1.25"/>
<line x1="449.64" y1="440.15" x2="455.64" y2="440.15" stroke="#000" stroke-width="1.25"/>
<circle cx="452.64" cy="411.28" r="2.6" fill="#000"/>
<circle cx="448.8" cy="442.19" r="2.6" fill="#000"/>
<circle cx="456.47" cy="437.08" r="2.6" fill="#000"/>
<line x1="467.2" y1="422.27" x2="467.2" y2="443.47" stroke="#000" stroke-width="1.25"/>
<line x1="464.2" y1="422.27" x2="470.2" y2="422.27" stroke="#000" stroke-width="1.25"/>
<line x1="464.2" y1="443.47" x2="470.2" y2="443.47" stroke="#000" stroke-width="1.25"/>
<circle cx="467.2" cy="412.56" r="2.6" fill="#000"/>
<circle cx="467.2" cy="438.87" r="2.6" fill="#000"/>
<circle cx="467.2" cy="447.82" r="2.6" fill="#000"/>
<line x1="481.76" y1="425.59" x2="481.76" y2="444.49" stroke="#000" stroke-width="1.25"/>
<line x1="478.76" y1="425.59" x2="484.76" y2="425.59" stroke="#000" stroke-width="1.25"/>
<line x1="478.76" y1="444.49" x2="484.76" y2="444.49" stroke="#000" stroke-width="1.25"/>
<circle cx="481.51" cy="416.65" r="2.6" fill="#000"/>
<circle cx="481.51" cy="439.38" r="2.6" fill="#000"/>
<circle cx="481.51" cy="449.09" r="2.6" fill="#000"/>
<circle cx="405.37" cy="493.72" r="2.6" fill="#000"/>
<circle cx="409.2" cy="493.72" r="2.6" fill="#000"/>
<circle cx="413.04" cy="493.72" r="2.6" fill="#000"/>
<text font-size="10.3" text-anchor="middle" transform="translate(346.5 444.4) rotate(-90) scale(1.08 1)">HFt uptake (MFI)</text>
<text font-size="9.2" text-anchor="start" transform="translate(337 510.3)">HFt-AF488</text>
<line x1="407.7" y1="507.5" x2="410.7" y2="507.5" stroke="#000" stroke-width="0.9"/>
<line x1="421.21" y1="507.1" x2="425.81" y2="507.1" stroke="#000" stroke-width="0.9"/>
<line x1="423.51" y1="504.8" x2="423.51" y2="509.4" stroke="#000" stroke-width="0.9"/>
<line x1="435.77" y1="507.1" x2="440.37" y2="507.1" stroke="#000" stroke-width="0.9"/>
<line x1="438.07" y1="504.8" x2="438.07" y2="509.4" stroke="#000" stroke-width="0.9"/>
<line x1="450.34" y1="507.1" x2="454.94" y2="507.1" stroke="#000" stroke-width="0.9"/>
<line x1="452.64" y1="504.8" x2="452.64" y2="509.4" stroke="#000" stroke-width="0.9"/>
<line x1="464.9" y1="507.1" x2="469.5" y2="507.1" stroke="#000" stroke-width="0.9"/>
<line x1="467.2" y1="504.8" x2="467.2" y2="509.4" stroke="#000" stroke-width="0.9"/>
<line x1="479.46" y1="507.1" x2="484.06" y2="507.1" stroke="#000" stroke-width="0.9"/>
<line x1="481.76" y1="504.8" x2="481.76" y2="509.4" stroke="#000" stroke-width="0.9"/>
<text font-size="9.2" text-anchor="start" transform="translate(337 523.2)">Nystatin (µM)</text>
<line x1="407.7" y1="520.4" x2="410.7" y2="520.4" stroke="#000" stroke-width="0.9"/>
<line x1="422.01" y1="520.4" x2="425.01" y2="520.4" stroke="#000" stroke-width="0.9"/>
<text font-size="9.8" text-anchor="middle" transform="translate(440.27 524.4) rotate(-38)">10</text>
<text font-size="9.8" text-anchor="middle" transform="translate(454.84 524.4) rotate(-38)">20</text>
<text font-size="9.8" text-anchor="middle" transform="translate(469.4 524.4) rotate(-38)">30</text>
<text font-size="9.8" text-anchor="middle" transform="translate(483.96 524.4) rotate(-38)">40</text>
<path d="M424.02 386.5 H460.81 V402.59 M434.24 402.59 H487.13" fill="none" stroke="#000" stroke-width="1.25"/>
<text font-size="9.5" text-anchor="middle" transform="translate(442.42 384.02)">ns</text>
<text font-size="10.3" text-anchor="start" font-weight="bold" transform="translate(519 375.4) scale(1.08 1)">k</text>
<rect x="604.53" y="432.49" width="13.29" height="61.83" fill="#4476a2"/>
<rect x="619.35" y="433.25" width="12.77" height="61.06" fill="#4476a2"/>
<rect x="633.91" y="427.38" width="12.77" height="66.94" fill="#4476a2"/>
<rect x="648.48" y="429.93" width="12.77" height="64.38" fill="#4476a2"/>
<rect x="662.78" y="443.22" width="13.29" height="51.1" fill="#4476a2"/>
<line x1="584.6" y1="395.33" x2="584.6" y2="494.94" stroke="#000" stroke-width="1.25"/>
<line x1="578" y1="494.32" x2="685.01" y2="494.32" stroke="#000" stroke-width="1.25"/>
<line x1="578" y1="494.32" x2="584.6" y2="494.32" stroke="#000" stroke-width="1.25"/>
<text font-size="11.3" text-anchor="end" transform="translate(575.1 498.38) scale(1.08 1)">0</text>
<line x1="578" y1="474.64" x2="584.6" y2="474.64" stroke="#000" stroke-width="1.25"/>
<text font-size="11.3" text-anchor="end" transform="translate(575.1 478.71) scale(1.08 1)">2000</text>
<line x1="578" y1="454.97" x2="584.6" y2="454.97" stroke="#000" stroke-width="1.25"/>
<text font-size="11.3" text-anchor="end" transform="translate(575.1 459.04) scale(1.08 1)">4000</text>
<line x1="578" y1="435.3" x2="584.6" y2="435.3" stroke="#000" stroke-width="1.25"/>
<text font-size="11.3" text-anchor="end" transform="translate(575.1 439.36) scale(1.08 1)">6000</text>
<line x1="578" y1="415.62" x2="584.6" y2="415.62" stroke="#000" stroke-width="1.25"/>
<text font-size="11.3" text-anchor="end" transform="translate(575.1 419.69) scale(1.08 1)">8000</text>
<line x1="578" y1="395.95" x2="584.6" y2="395.95" stroke="#000" stroke-width="1.25"/>
<text font-size="11.3" text-anchor="end" transform="translate(575.1 400.02) scale(1.08 1)">10000</text>
<line x1="596.87" y1="494.32" x2="596.87" y2="500.92" stroke="#000" stroke-width="1.25"/>
<line x1="611.18" y1="494.32" x2="611.18" y2="500.92" stroke="#000" stroke-width="1.25"/>
<line x1="625.74" y1="494.32" x2="625.74" y2="500.92" stroke="#000" stroke-width="1.25"/>
<line x1="640.3" y1="494.32" x2="640.3" y2="500.92" stroke="#000" stroke-width="1.25"/>
<line x1="654.86" y1="494.32" x2="654.86" y2="500.92" stroke="#000" stroke-width="1.25"/>
<line x1="669.43" y1="494.32" x2="669.43" y2="500.92" stroke="#000" stroke-width="1.25"/>
<line x1="611.18" y1="426.1" x2="611.18" y2="437.6" stroke="#000" stroke-width="1.25"/>
<line x1="608.18" y1="426.1" x2="614.18" y2="426.1" stroke="#000" stroke-width="1.25"/>
<line x1="608.18" y1="437.6" x2="614.18" y2="437.6" stroke="#000" stroke-width="1.25"/>
<circle cx="611.43" cy="424.82" r="2.6" fill="#000"/>
<circle cx="611.43" cy="431.21" r="2.6" fill="#000"/>
<circle cx="611.43" cy="441.43" r="2.6" fill="#000"/>
<line x1="625.74" y1="429.93" x2="625.74" y2="435.04" stroke="#000" stroke-width="1.25"/>
<line x1="622.74" y1="429.93" x2="628.74" y2="429.93" stroke="#000" stroke-width="1.25"/>
<line x1="622.74" y1="435.04" x2="628.74" y2="435.04" stroke="#000" stroke-width="1.25"/>
<circle cx="621.91" cy="433.25" r="2.6" fill="#000"/>
<circle cx="625.48" cy="427.38" r="2.6" fill="#000"/>
<circle cx="629.32" cy="433.25" r="2.6" fill="#000"/>
<line x1="640.3" y1="422.27" x2="640.3" y2="432.49" stroke="#000" stroke-width="1.25"/>
<line x1="637.3" y1="422.27" x2="643.3" y2="422.27" stroke="#000" stroke-width="1.25"/>
<line x1="637.3" y1="432.49" x2="643.3" y2="432.49" stroke="#000" stroke-width="1.25"/>
<circle cx="640.3" cy="418.94" r="2.6" fill="#000"/>
<circle cx="640.3" cy="428.14" r="2.6" fill="#000"/>
<circle cx="640.3" cy="435.04" r="2.6" fill="#000"/>
<line x1="654.86" y1="424.82" x2="654.86" y2="433.76" stroke="#000" stroke-width="1.25"/>
<line x1="651.86" y1="424.82" x2="657.86" y2="424.82" stroke="#000" stroke-width="1.25"/>
<line x1="651.86" y1="433.76" x2="657.86" y2="433.76" stroke="#000" stroke-width="1.25"/>
<circle cx="650.52" cy="423.03" r="2.6" fill="#000"/>
<circle cx="658.19" cy="427.38" r="2.6" fill="#000"/>
<circle cx="654.35" cy="437.6" r="2.6" fill="#000"/>
<line x1="669.43" y1="437.6" x2="669.43" y2="447.82" stroke="#000" stroke-width="1.25"/>
<line x1="666.43" y1="437.6" x2="672.43" y2="437.6" stroke="#000" stroke-width="1.25"/>
<line x1="666.43" y1="447.82" x2="672.43" y2="447.82" stroke="#000" stroke-width="1.25"/>
<circle cx="668.92" cy="435.55" r="2.6" fill="#000"/>
<circle cx="668.92" cy="442.71" r="2.6" fill="#000"/>
<circle cx="668.92" cy="449.09" r="2.6" fill="#000"/>
<circle cx="593.04" cy="493.72" r="2.6" fill="#000"/>
<circle cx="596.87" cy="493.72" r="2.6" fill="#000"/>
<circle cx="600.7" cy="493.72" r="2.6" fill="#000"/>
<text font-size="10.3" text-anchor="middle" transform="translate(534 441.3) rotate(-90) scale(1.08 1)">HFt uptake (MFI)</text>
<text font-size="9.2" text-anchor="start" transform="translate(525.5 510.3)">HFt-AF488</text>
<line x1="595.37" y1="507.5" x2="598.37" y2="507.5" stroke="#000" stroke-width="0.9"/>
<line x1="608.88" y1="507.1" x2="613.48" y2="507.1" stroke="#000" stroke-width="0.9"/>
<line x1="611.18" y1="504.8" x2="611.18" y2="509.4" stroke="#000" stroke-width="0.9"/>
<line x1="623.44" y1="507.1" x2="628.04" y2="507.1" stroke="#000" stroke-width="0.9"/>
<line x1="625.74" y1="504.8" x2="625.74" y2="509.4" stroke="#000" stroke-width="0.9"/>
<line x1="638" y1="507.1" x2="642.6" y2="507.1" stroke="#000" stroke-width="0.9"/>
<line x1="640.3" y1="504.8" x2="640.3" y2="509.4" stroke="#000" stroke-width="0.9"/>
<line x1="652.56" y1="507.1" x2="657.16" y2="507.1" stroke="#000" stroke-width="0.9"/>
<line x1="654.86" y1="504.8" x2="654.86" y2="509.4" stroke="#000" stroke-width="0.9"/>
<line x1="667.13" y1="507.1" x2="671.73" y2="507.1" stroke="#000" stroke-width="0.9"/>
<line x1="669.43" y1="504.8" x2="669.43" y2="509.4" stroke="#000" stroke-width="0.9"/>
<text font-size="9.2" text-anchor="start" transform="translate(525.5 523.2)">Nystatin (µM)</text>
<line x1="595.37" y1="520.4" x2="598.37" y2="520.4" stroke="#000" stroke-width="0.9"/>
<line x1="609.68" y1="520.4" x2="612.68" y2="520.4" stroke="#000" stroke-width="0.9"/>
<text font-size="9.8" text-anchor="middle" transform="translate(627.94 524.4) rotate(-38)">10</text>
<text font-size="9.8" text-anchor="middle" transform="translate(642.5 524.4) rotate(-38)">20</text>
<text font-size="9.8" text-anchor="middle" transform="translate(657.06 524.4) rotate(-38)">30</text>
<text font-size="9.8" text-anchor="middle" transform="translate(671.63 524.4) rotate(-38)">40</text>
<path d="M611.43 394.67 H648.73 V411.54 M621.91 411.54 H674.79" fill="none" stroke="#000" stroke-width="1.25"/>
<text font-size="9.5" text-anchor="middle" transform="translate(630.08 392.45)">ns</text>
<text font-size="10.3" text-anchor="start" font-weight="bold" transform="translate(20 540.3) scale(1.08 1)">l</text>
<rect x="100.91" y="591.76" width="11.21" height="67.51" fill="#4476a2"/>
<rect x="113.99" y="594.1" width="11.45" height="65.17" fill="#4476a2"/>
<rect x="127.31" y="598.54" width="10.98" height="60.73" fill="#4476a2"/>
<rect x="140.15" y="604.61" width="11.21" height="54.66" fill="#4476a2"/>
<line x1="82.92" y1="559.37" x2="82.92" y2="659.9" stroke="#000" stroke-width="1.25"/>
<line x1="76.32" y1="659.27" x2="156.51" y2="659.27" stroke="#000" stroke-width="1.25"/>
<line x1="76.32" y1="659.27" x2="82.92" y2="659.27" stroke="#000" stroke-width="1.25"/>
<text font-size="11.3" text-anchor="end" transform="translate(73.42 663.34) scale(1.08 1)">0</text>
<line x1="76.32" y1="634.45" x2="82.92" y2="634.45" stroke="#000" stroke-width="1.25"/>
<text font-size="11.3" text-anchor="end" transform="translate(73.42 638.52) scale(1.08 1)">5000</text>
<line x1="76.32" y1="609.63" x2="82.92" y2="609.63" stroke="#000" stroke-width="1.25"/>
<text font-size="11.3" text-anchor="end" transform="translate(73.42 613.7) scale(1.08 1)">10000</text>
<line x1="76.32" y1="584.81" x2="82.92" y2="584.81" stroke="#000" stroke-width="1.25"/>
<text font-size="11.3" text-anchor="end" transform="translate(73.42 588.88) scale(1.08 1)">15000</text>
<line x1="76.32" y1="559.99" x2="82.92" y2="559.99" stroke="#000" stroke-width="1.25"/>
<text font-size="11.3" text-anchor="end" transform="translate(73.42 564.06) scale(1.08 1)">20000</text>
<line x1="93.44" y1="659.27" x2="93.44" y2="665.87" stroke="#000" stroke-width="1.25"/>
<line x1="106.52" y1="659.27" x2="106.52" y2="665.87" stroke="#000" stroke-width="1.25"/>
<line x1="119.72" y1="659.27" x2="119.72" y2="665.87" stroke="#000" stroke-width="1.25"/>
<line x1="132.8" y1="659.27" x2="132.8" y2="665.87" stroke="#000" stroke-width="1.25"/>
<line x1="145.76" y1="659.27" x2="145.76" y2="665.87" stroke="#000" stroke-width="1.25"/>
<line x1="106.52" y1="584.75" x2="106.52" y2="598.07" stroke="#000" stroke-width="1.25"/>
<line x1="103.52" y1="584.75" x2="109.52" y2="584.75" stroke="#000" stroke-width="1.25"/>
<line x1="103.52" y1="598.07" x2="109.52" y2="598.07" stroke="#000" stroke-width="1.25"/>
<circle cx="106.75" cy="577.75" r="2.6" fill="#000"/>
<circle cx="103.48" cy="598.54" r="2.6" fill="#000"/>
<circle cx="109.32" cy="597.6" r="2.6" fill="#000"/>
<line x1="119.72" y1="589.43" x2="119.72" y2="598.07" stroke="#000" stroke-width="1.25"/>
<line x1="116.72" y1="589.43" x2="122.72" y2="589.43" stroke="#000" stroke-width="1.25"/>
<line x1="116.72" y1="598.07" x2="122.72" y2="598.07" stroke="#000" stroke-width="1.25"/>
<circle cx="119.83" cy="584.75" r="2.6" fill="#000"/>
<circle cx="116.8" cy="598.07" r="2.6" fill="#000"/>
<circle cx="122.63" cy="596.9" r="2.6" fill="#000"/>
<line x1="132.8" y1="593.4" x2="132.8" y2="603.21" stroke="#000" stroke-width="1.25"/>
<line x1="129.8" y1="593.4" x2="135.8" y2="593.4" stroke="#000" stroke-width="1.25"/>
<line x1="129.8" y1="603.21" x2="135.8" y2="603.21" stroke="#000" stroke-width="1.25"/>
<circle cx="132.68" cy="589.89" r="2.6" fill="#000"/>
<circle cx="129.64" cy="602.74" r="2.6" fill="#000"/>
<circle cx="135.48" cy="599.94" r="2.6" fill="#000"/>
<line x1="145.76" y1="599.24" x2="145.76" y2="609.75" stroke="#000" stroke-width="1.25"/>
<line x1="142.76" y1="599.24" x2="148.76" y2="599.24" stroke="#000" stroke-width="1.25"/>
<line x1="142.76" y1="609.75" x2="148.76" y2="609.75" stroke="#000" stroke-width="1.25"/>
<circle cx="145.53" cy="597.37" r="2.6" fill="#000"/>
<circle cx="145.53" cy="604.61" r="2.6" fill="#000"/>
<circle cx="145.53" cy="612.08" r="2.6" fill="#000"/>
<circle cx="90.63" cy="658.67" r="2.6" fill="#000"/>
<circle cx="93.44" cy="658.67" r="2.6" fill="#000"/>
<circle cx="96.47" cy="658.67" r="2.6" fill="#000"/>
<text font-size="10.3" text-anchor="middle" transform="translate(33.5 606.6) rotate(-90) scale(1.08 1)">HFt uptake (MFI)</text>
<text font-size="9.2" text-anchor="end" transform="translate(86 675.3)">HFt-AF488</text>
<line x1="91.94" y1="672.5" x2="94.94" y2="672.5" stroke="#000" stroke-width="0.9"/>
<line x1="104.22" y1="672.1" x2="108.82" y2="672.1" stroke="#000" stroke-width="0.9"/>
<line x1="106.52" y1="669.8" x2="106.52" y2="674.4" stroke="#000" stroke-width="0.9"/>
<line x1="117.42" y1="672.1" x2="122.02" y2="672.1" stroke="#000" stroke-width="0.9"/>
<line x1="119.72" y1="669.8" x2="119.72" y2="674.4" stroke="#000" stroke-width="0.9"/>
<line x1="130.5" y1="672.1" x2="135.1" y2="672.1" stroke="#000" stroke-width="0.9"/>
<line x1="132.8" y1="669.8" x2="132.8" y2="674.4" stroke="#000" stroke-width="0.9"/>
<line x1="143.46" y1="672.1" x2="148.06" y2="672.1" stroke="#000" stroke-width="0.9"/>
<line x1="145.76" y1="669.8" x2="145.76" y2="674.4" stroke="#000" stroke-width="0.9"/>
<text font-size="9.2" text-anchor="end" transform="translate(86 688.8)">Genistein (µM)</text>
<line x1="91.94" y1="686" x2="94.94" y2="686" stroke="#000" stroke-width="0.9"/>
<line x1="105.02" y1="686" x2="108.02" y2="686" stroke="#000" stroke-width="0.9"/>
<text font-size="9.8" text-anchor="middle" transform="translate(121.92 690) rotate(-38)">50</text>
<text font-size="9.8" text-anchor="middle" transform="translate(135 690) rotate(-38)">100</text>
<text font-size="9.8" text-anchor="middle" transform="translate(147.96 690) rotate(-38)">200</text>
<path d="M107.45 564.67 H132.45 V575.88 M116.8 575.88 H147.86" fill="none" stroke="#000" stroke-width="1.25"/>
<text font-size="9.5" text-anchor="middle" transform="translate(121 561.76)">ns</text>
<text font-size="10.3" text-anchor="start" font-weight="bold" transform="translate(160 540.3) scale(1.08 1)">m</text>
<rect x="242.27" y="580.55" width="10.98" height="79.42" fill="#4476a2"/>
<rect x="255.58" y="578.21" width="10.75" height="81.76" fill="#4476a2"/>
<rect x="268.66" y="579.38" width="10.51" height="80.59" fill="#4476a2"/>
<rect x="281.51" y="584.52" width="10.98" height="75.45" fill="#4476a2"/>
<line x1="224.28" y1="559.6" x2="224.28" y2="660.6" stroke="#000" stroke-width="1.25"/>
<line x1="217.68" y1="659.97" x2="298.33" y2="659.97" stroke="#000" stroke-width="1.25"/>
<line x1="217.68" y1="659.97" x2="224.28" y2="659.97" stroke="#000" stroke-width="1.25"/>
<text font-size="11.3" text-anchor="end" transform="translate(214.78 664.04) scale(1.08 1)">0</text>
<line x1="217.68" y1="626.72" x2="224.28" y2="626.72" stroke="#000" stroke-width="1.25"/>
<text font-size="11.3" text-anchor="end" transform="translate(214.78 630.79) scale(1.08 1)">3000</text>
<line x1="217.68" y1="593.48" x2="224.28" y2="593.48" stroke="#000" stroke-width="1.25"/>
<text font-size="11.3" text-anchor="end" transform="translate(214.78 597.54) scale(1.08 1)">6000</text>
<line x1="217.68" y1="560.23" x2="224.28" y2="560.23" stroke="#000" stroke-width="1.25"/>
<text font-size="11.3" text-anchor="end" transform="translate(214.78 564.3) scale(1.08 1)">9000</text>
<line x1="234.56" y1="659.97" x2="234.56" y2="666.57" stroke="#000" stroke-width="1.25"/>
<line x1="247.76" y1="659.97" x2="247.76" y2="666.57" stroke="#000" stroke-width="1.25"/>
<line x1="260.96" y1="659.97" x2="260.96" y2="666.57" stroke="#000" stroke-width="1.25"/>
<line x1="273.92" y1="659.97" x2="273.92" y2="666.57" stroke="#000" stroke-width="1.25"/>
<line x1="287" y1="659.97" x2="287" y2="666.57" stroke="#000" stroke-width="1.25"/>
<circle cx="244.6" cy="581.02" r="2.6" fill="#000"/>
<circle cx="247.64" cy="578.21" r="2.6" fill="#000"/>
<circle cx="250.91" cy="579.85" r="2.6" fill="#000"/>
<circle cx="257.92" cy="580.08" r="2.6" fill="#000"/>
<circle cx="260.96" cy="576.58" r="2.6" fill="#000"/>
<circle cx="263.99" cy="577.51" r="2.6" fill="#000"/>
<circle cx="271" cy="579.38" r="2.6" fill="#000"/>
<circle cx="274.27" cy="578.21" r="2.6" fill="#000"/>
<circle cx="277.31" cy="578.91" r="2.6" fill="#000"/>
<line x1="287" y1="581.72" x2="287" y2="587.56" stroke="#000" stroke-width="1.25"/>
<line x1="284" y1="581.72" x2="290" y2="581.72" stroke="#000" stroke-width="1.25"/>
<line x1="284" y1="587.56" x2="290" y2="587.56" stroke="#000" stroke-width="1.25"/>
<circle cx="283.85" cy="581.72" r="2.6" fill="#000"/>
<circle cx="287.12" cy="588.26" r="2.6" fill="#000"/>
<circle cx="290.15" cy="583.35" r="2.6" fill="#000"/>
<circle cx="231.99" cy="659.37" r="2.6" fill="#000"/>
<circle cx="236.9" cy="659.37" r="2.6" fill="#000"/>
<text font-size="10.3" text-anchor="middle" transform="translate(186.2 604.3) rotate(-90) scale(1.08 1)">HFt uptake (MFI)</text>
<text font-size="9.2" text-anchor="end" transform="translate(226.5 675.3)">HFt-AF488</text>
<line x1="233.06" y1="672.5" x2="236.06" y2="672.5" stroke="#000" stroke-width="0.9"/>
<line x1="245.46" y1="672.1" x2="250.06" y2="672.1" stroke="#000" stroke-width="0.9"/>
<line x1="247.76" y1="669.8" x2="247.76" y2="674.4" stroke="#000" stroke-width="0.9"/>
<line x1="258.66" y1="672.1" x2="263.26" y2="672.1" stroke="#000" stroke-width="0.9"/>
<line x1="260.96" y1="669.8" x2="260.96" y2="674.4" stroke="#000" stroke-width="0.9"/>
<line x1="271.62" y1="672.1" x2="276.22" y2="672.1" stroke="#000" stroke-width="0.9"/>
<line x1="273.92" y1="669.8" x2="273.92" y2="674.4" stroke="#000" stroke-width="0.9"/>
<line x1="284.7" y1="672.1" x2="289.3" y2="672.1" stroke="#000" stroke-width="0.9"/>
<line x1="287" y1="669.8" x2="287" y2="674.4" stroke="#000" stroke-width="0.9"/>
<text font-size="9.2" text-anchor="end" transform="translate(226.5 688.8)">Genistein (µM)</text>
<line x1="233.06" y1="686" x2="236.06" y2="686" stroke="#000" stroke-width="0.9"/>
<line x1="246.26" y1="686" x2="249.26" y2="686" stroke="#000" stroke-width="0.9"/>
<text font-size="9.8" text-anchor="middle" transform="translate(263.16 690) rotate(-38)">50</text>
<text font-size="9.8" text-anchor="middle" transform="translate(276.12 690) rotate(-38)">100</text>
<text font-size="9.8" text-anchor="middle" transform="translate(289.2 690) rotate(-38)">200</text>
<path d="M247.64 557.66 H273.1 V566.53 M255.58 566.53 H289.45" fill="none" stroke="#000" stroke-width="1.25"/>
<text font-size="9.5" text-anchor="middle" transform="translate(262.12 556.62)">ns</text>
<text font-size="10.3" text-anchor="start" font-weight="bold" transform="translate(297 540.3) scale(1.08 1)">n</text>
<rect x="355.88" y="587.94" width="12.75" height="71.57" fill="#3c9142"/>
<rect x="371.96" y="591.86" width="12.35" height="67.65" fill="#3c9142"/>
<rect x="387.65" y="590.49" width="12.75" height="69.02" fill="#3c9142"/>
<rect x="403.53" y="585" width="12.75" height="74.51" fill="#3c9142"/>
<line x1="348.63" y1="559.87" x2="348.63" y2="660.13" stroke="#000" stroke-width="1.25"/>
<line x1="342.03" y1="659.51" x2="423.53" y2="659.51" stroke="#000" stroke-width="1.25"/>
<line x1="342.03" y1="659.51" x2="348.63" y2="659.51" stroke="#000" stroke-width="1.25"/>
<text font-size="11.3" text-anchor="end" transform="translate(339.13 663.58) scale(1.08 1)">0</text>
<line x1="342.03" y1="639.71" x2="348.63" y2="639.71" stroke="#000" stroke-width="1.25"/>
<text font-size="11.3" text-anchor="end" transform="translate(339.13 643.77) scale(1.08 1)">20</text>
<line x1="342.03" y1="619.9" x2="348.63" y2="619.9" stroke="#000" stroke-width="1.25"/>
<text font-size="11.3" text-anchor="end" transform="translate(339.13 623.97) scale(1.08 1)">40</text>
<line x1="342.03" y1="600.1" x2="348.63" y2="600.1" stroke="#000" stroke-width="1.25"/>
<text font-size="11.3" text-anchor="end" transform="translate(339.13 604.17) scale(1.08 1)">60</text>
<line x1="342.03" y1="580.29" x2="348.63" y2="580.29" stroke="#000" stroke-width="1.25"/>
<text font-size="11.3" text-anchor="end" transform="translate(339.13 584.36) scale(1.08 1)">80</text>
<line x1="342.03" y1="560.49" x2="348.63" y2="560.49" stroke="#000" stroke-width="1.25"/>
<text font-size="11.3" text-anchor="end" transform="translate(339.13 564.56) scale(1.08 1)">100</text>
<line x1="362.25" y1="659.51" x2="362.25" y2="666.11" stroke="#000" stroke-width="1.25"/>
<line x1="378.14" y1="659.51" x2="378.14" y2="666.11" stroke="#000" stroke-width="1.25"/>
<line x1="394.02" y1="659.51" x2="394.02" y2="666.11" stroke="#000" stroke-width="1.25"/>
<line x1="409.9" y1="659.51" x2="409.9" y2="666.11" stroke="#000" stroke-width="1.25"/>
<line x1="362.25" y1="584.02" x2="362.25" y2="591.47" stroke="#000" stroke-width="1.25"/>
<line x1="359.25" y1="584.02" x2="365.25" y2="584.02" stroke="#000" stroke-width="1.25"/>
<line x1="359.25" y1="591.47" x2="365.25" y2="591.47" stroke="#000" stroke-width="1.25"/>
<circle cx="357.84" cy="582.65" r="2.6" fill="#000"/>
<circle cx="366.67" cy="586.37" r="2.6" fill="#000"/>
<circle cx="361.76" cy="592.45" r="2.6" fill="#000"/>
<circle cx="373.53" cy="592.84" r="2.6" fill="#000"/>
<circle cx="377.84" cy="589.9" r="2.6" fill="#000"/>
<circle cx="381.96" cy="590.29" r="2.6" fill="#000"/>
<line x1="394.02" y1="586.96" x2="394.02" y2="592.45" stroke="#000" stroke-width="1.25"/>
<line x1="391.02" y1="586.96" x2="397.02" y2="586.96" stroke="#000" stroke-width="1.25"/>
<line x1="391.02" y1="592.45" x2="397.02" y2="592.45" stroke="#000" stroke-width="1.25"/>
<circle cx="389.61" cy="590.29" r="2.6" fill="#000"/>
<circle cx="393.73" cy="584.61" r="2.6" fill="#000"/>
<circle cx="398.04" cy="590.49" r="2.6" fill="#000"/>
<circle cx="405.49" cy="586.37" r="2.6" fill="#000"/>
<circle cx="409.8" cy="583.04" r="2.6" fill="#000"/>
<circle cx="414.12" cy="583.63" r="2.6" fill="#000"/>
<text font-size="10.3" text-anchor="middle" transform="translate(317 606.1) rotate(-90) scale(1.08 1)">Viability (%)</text>
<text font-size="9.3" text-anchor="end" transform="translate(362.45 674.61) rotate(-35)">Control</text>
<text font-size="9.3" text-anchor="end" transform="translate(379.94 672.61) rotate(-35)">SiScr</text>
<text font-size="9.3" text-anchor="end" transform="translate(398.32 673.61) rotate(-35)">siCAV1-1</text>
<text font-size="9.3" text-anchor="end" transform="translate(415.5 673.61) rotate(-35)">siCAV1-2</text>
<text font-size="10.3" text-anchor="start" font-weight="bold" transform="translate(423 540.3) scale(1.08 1)">o</text>
<rect x="489.49" y="577.51" width="12.67" height="81.75" fill="#4476a2"/>
<rect x="505.84" y="581.6" width="12.67" height="77.66" fill="#4476a2"/>
<rect x="521.78" y="593.25" width="12.67" height="66.01" fill="#4476a2"/>
<rect x="537.92" y="576.28" width="12.88" height="82.98" fill="#4476a2"/>
<line x1="482.95" y1="560.53" x2="482.95" y2="659.88" stroke="#000" stroke-width="1.25"/>
<line x1="476.35" y1="659.26" x2="556.93" y2="659.26" stroke="#000" stroke-width="1.25"/>
<line x1="476.35" y1="659.26" x2="482.95" y2="659.26" stroke="#000" stroke-width="1.25"/>
<text font-size="11.3" text-anchor="end" transform="translate(473.45 663.33) scale(1.08 1)">0</text>
<line x1="476.35" y1="642.91" x2="482.95" y2="642.91" stroke="#000" stroke-width="1.25"/>
<text font-size="11.3" text-anchor="end" transform="translate(473.45 646.98) scale(1.08 1)">20</text>
<line x1="476.35" y1="626.56" x2="482.95" y2="626.56" stroke="#000" stroke-width="1.25"/>
<text font-size="11.3" text-anchor="end" transform="translate(473.45 630.63) scale(1.08 1)">40</text>
<line x1="476.35" y1="610.21" x2="482.95" y2="610.21" stroke="#000" stroke-width="1.25"/>
<text font-size="11.3" text-anchor="end" transform="translate(473.45 614.28) scale(1.08 1)">60</text>
<line x1="476.35" y1="593.86" x2="482.95" y2="593.86" stroke="#000" stroke-width="1.25"/>
<text font-size="11.3" text-anchor="end" transform="translate(473.45 597.93) scale(1.08 1)">80</text>
<line x1="476.35" y1="577.51" x2="482.95" y2="577.51" stroke="#000" stroke-width="1.25"/>
<text font-size="11.3" text-anchor="end" transform="translate(473.45 581.58) scale(1.08 1)">100</text>
<line x1="476.35" y1="561.16" x2="482.95" y2="561.16" stroke="#000" stroke-width="1.25"/>
<text font-size="11.3" text-anchor="end" transform="translate(473.45 565.23) scale(1.08 1)">120</text>
<line x1="495.82" y1="659.26" x2="495.82" y2="665.86" stroke="#000" stroke-width="1.25"/>
<line x1="512.17" y1="659.26" x2="512.17" y2="665.86" stroke="#000" stroke-width="1.25"/>
<line x1="528.11" y1="659.26" x2="528.11" y2="665.86" stroke="#000" stroke-width="1.25"/>
<line x1="544.36" y1="659.26" x2="544.36" y2="665.86" stroke="#000" stroke-width="1.25"/>
<circle cx="491.53" cy="577.51" r="2.6" fill="#000"/>
<circle cx="495.62" cy="577.51" r="2.6" fill="#000"/>
<circle cx="500.11" cy="577.51" r="2.6" fill="#000"/>
<line x1="512.17" y1="575.47" x2="512.17" y2="585.07" stroke="#000" stroke-width="1.25"/>
<line x1="509.17" y1="575.47" x2="515.17" y2="575.47" stroke="#000" stroke-width="1.25"/>
<line x1="509.17" y1="585.07" x2="515.17" y2="585.07" stroke="#000" stroke-width="1.25"/>
<circle cx="507.47" cy="574.44" r="2.6" fill="#000"/>
<circle cx="516.06" cy="575.87" r="2.6" fill="#000"/>
<circle cx="511.97" cy="589.57" r="2.6" fill="#000"/>
<line x1="528.11" y1="587.73" x2="528.11" y2="597.33" stroke="#000" stroke-width="1.25"/>
<line x1="525.11" y1="587.73" x2="531.11" y2="587.73" stroke="#000" stroke-width="1.25"/>
<line x1="525.11" y1="597.33" x2="531.11" y2="597.33" stroke="#000" stroke-width="1.25"/>
<circle cx="527.91" cy="583.44" r="2.6" fill="#000"/>
<circle cx="527.91" cy="596.31" r="2.6" fill="#000"/>
<circle cx="527.91" cy="601.42" r="2.6" fill="#000"/>
<line x1="544.36" y1="569.74" x2="544.36" y2="581.39" stroke="#000" stroke-width="1.25"/>
<line x1="541.36" y1="569.74" x2="547.36" y2="569.74" stroke="#000" stroke-width="1.25"/>
<line x1="541.36" y1="581.39" x2="547.36" y2="581.39" stroke="#000" stroke-width="1.25"/>
<circle cx="539.97" cy="567.7" r="2.6" fill="#000"/>
<circle cx="548.35" cy="571.38" r="2.6" fill="#000"/>
<circle cx="544.05" cy="587.12" r="2.6" fill="#000"/>
<text font-size="10.3" text-anchor="middle" transform="translate(438.6 610.21) rotate(-90) scale(1.08 1)">HFt uptake</text>
<text font-size="10.3" text-anchor="middle" transform="translate(451 610.21) rotate(-90) scale(1.08 1)">(% of Control)</text>
<text font-size="9.3" text-anchor="end" transform="translate(496.02 674.36) rotate(-35)">Control</text>
<text font-size="9.3" text-anchor="end" transform="translate(513.97 672.36) rotate(-35)">SiScr</text>
<text font-size="9.3" text-anchor="end" transform="translate(532.41 673.36) rotate(-35)">siCAV1-1</text>
<text font-size="9.3" text-anchor="end" transform="translate(549.96 673.36) rotate(-35)">siCAV1-2</text>
<path d="M512.99 550.74 H535.47 V560.55 M523.82 560.55 H548.76" fill="none" stroke="#000" stroke-width="1.25"/>
<text font-size="9.5" text-anchor="middle" transform="translate(525.87 547.6)">ns</text>
<text font-size="10.3" text-anchor="start" font-weight="bold" transform="translate(548 540.8) scale(1.08 1)">p</text>
<rect x="614.9" y="589.57" width="12.47" height="69.69" fill="#3c9142"/>
<rect x="630.43" y="588.14" width="12.67" height="71.12" fill="#3c9142"/>
<rect x="646.57" y="589.57" width="12.47" height="69.69" fill="#3c9142"/>
<rect x="662.11" y="590.79" width="13.08" height="68.47" fill="#3c9142"/>
<line x1="607.74" y1="560.33" x2="607.74" y2="659.88" stroke="#000" stroke-width="1.25"/>
<line x1="601.14" y1="659.26" x2="681.93" y2="659.26" stroke="#000" stroke-width="1.25"/>
<line x1="601.14" y1="659.26" x2="607.74" y2="659.26" stroke="#000" stroke-width="1.25"/>
<text font-size="11.3" text-anchor="end" transform="translate(598.24 663.33) scale(1.08 1)">0</text>
<line x1="601.14" y1="642.88" x2="607.74" y2="642.88" stroke="#000" stroke-width="1.25"/>
<text font-size="11.3" text-anchor="end" transform="translate(598.24 646.94) scale(1.08 1)">20</text>
<line x1="601.14" y1="626.49" x2="607.74" y2="626.49" stroke="#000" stroke-width="1.25"/>
<text font-size="11.3" text-anchor="end" transform="translate(598.24 630.56) scale(1.08 1)">40</text>
<line x1="601.14" y1="610.11" x2="607.74" y2="610.11" stroke="#000" stroke-width="1.25"/>
<text font-size="11.3" text-anchor="end" transform="translate(598.24 614.18) scale(1.08 1)">60</text>
<line x1="601.14" y1="593.72" x2="607.74" y2="593.72" stroke="#000" stroke-width="1.25"/>
<text font-size="11.3" text-anchor="end" transform="translate(598.24 597.79) scale(1.08 1)">80</text>
<line x1="601.14" y1="577.34" x2="607.74" y2="577.34" stroke="#000" stroke-width="1.25"/>
<text font-size="11.3" text-anchor="end" transform="translate(598.24 581.41) scale(1.08 1)">100</text>
<line x1="601.14" y1="560.96" x2="607.74" y2="560.96" stroke="#000" stroke-width="1.25"/>
<text font-size="11.3" text-anchor="end" transform="translate(598.24 565.02) scale(1.08 1)">120</text>
<line x1="621.13" y1="659.26" x2="621.13" y2="665.86" stroke="#000" stroke-width="1.25"/>
<line x1="636.76" y1="659.26" x2="636.76" y2="665.86" stroke="#000" stroke-width="1.25"/>
<line x1="652.81" y1="659.26" x2="652.81" y2="665.86" stroke="#000" stroke-width="1.25"/>
<line x1="668.65" y1="659.26" x2="668.65" y2="665.86" stroke="#000" stroke-width="1.25"/>
<line x1="621.13" y1="584.05" x2="621.13" y2="594.27" stroke="#000" stroke-width="1.25"/>
<line x1="618.13" y1="584.05" x2="624.13" y2="584.05" stroke="#000" stroke-width="1.25"/>
<line x1="618.13" y1="594.27" x2="624.13" y2="594.27" stroke="#000" stroke-width="1.25"/>
<circle cx="616.53" cy="583.44" r="2.6" fill="#000"/>
<circle cx="625.11" cy="585.07" r="2.6" fill="#000"/>
<circle cx="620.62" cy="598.76" r="2.6" fill="#000"/>
<line x1="636.76" y1="583.44" x2="636.76" y2="592.84" stroke="#000" stroke-width="1.25"/>
<line x1="633.76" y1="583.44" x2="639.76" y2="583.44" stroke="#000" stroke-width="1.25"/>
<line x1="633.76" y1="592.84" x2="639.76" y2="592.84" stroke="#000" stroke-width="1.25"/>
<circle cx="632.47" cy="583.03" r="2.6" fill="#000"/>
<circle cx="641.06" cy="584.46" r="2.6" fill="#000"/>
<circle cx="636.97" cy="596.31" r="2.6" fill="#000"/>
<line x1="652.81" y1="583.44" x2="652.81" y2="595.29" stroke="#000" stroke-width="1.25"/>
<line x1="649.81" y1="583.44" x2="655.81" y2="583.44" stroke="#000" stroke-width="1.25"/>
<line x1="649.81" y1="595.29" x2="655.81" y2="595.29" stroke="#000" stroke-width="1.25"/>
<circle cx="648.62" cy="582.41" r="2.6" fill="#000"/>
<circle cx="657" cy="584.66" r="2.6" fill="#000"/>
<circle cx="652.7" cy="600.4" r="2.6" fill="#000"/>
<line x1="668.65" y1="585.07" x2="668.65" y2="593.86" stroke="#000" stroke-width="1.25"/>
<line x1="665.65" y1="585.07" x2="671.65" y2="585.07" stroke="#000" stroke-width="1.25"/>
<line x1="665.65" y1="593.86" x2="671.65" y2="593.86" stroke="#000" stroke-width="1.25"/>
<circle cx="664.56" cy="584.66" r="2.6" fill="#000"/>
<circle cx="673.14" cy="585.07" r="2.6" fill="#000"/>
<circle cx="668.65" cy="598.36" r="2.6" fill="#000"/>
<text font-size="10.3" text-anchor="middle" transform="translate(575.6 610.11) rotate(-90) scale(1.08 1)">Viability (%)</text>
<text font-size="9.3" text-anchor="end" transform="translate(621.33 674.36) rotate(-35)">Control</text>
<text font-size="9.3" text-anchor="end" transform="translate(638.56 672.36) rotate(-35)">SiScr</text>
<text font-size="9.3" text-anchor="end" transform="translate(657.11 673.36) rotate(-35)">siCAV1-1</text>
<text font-size="9.3" text-anchor="end" transform="translate(674.25 673.36) rotate(-35)">siCAV1-2</text>
<text font-size="10.3" text-anchor="start" font-weight="bold" transform="translate(22.5 716.5) scale(1.08 1)">q</text>
<rect x="84.09" y="744.38" width="12.85" height="82.22" fill="#4476a2"/>
<rect x="100.44" y="743.91" width="12.38" height="82.69" fill="#4476a2"/>
<rect x="116.33" y="750.22" width="12.61" height="76.38" fill="#4476a2"/>
<rect x="132.45" y="749.05" width="12.85" height="77.55" fill="#4476a2"/>
<line x1="77.79" y1="727.41" x2="77.79" y2="827.23" stroke="#000" stroke-width="1.25"/>
<line x1="71.19" y1="826.61" x2="153" y2="826.61" stroke="#000" stroke-width="1.25"/>
<line x1="71.19" y1="826.61" x2="77.79" y2="826.61" stroke="#000" stroke-width="1.25"/>
<text font-size="11.3" text-anchor="end" transform="translate(68.29 830.67) scale(1.08 1)">0</text>
<line x1="71.19" y1="810.18" x2="77.79" y2="810.18" stroke="#000" stroke-width="1.25"/>
<text font-size="11.3" text-anchor="end" transform="translate(68.29 814.24) scale(1.08 1)">20</text>
<line x1="71.19" y1="793.75" x2="77.79" y2="793.75" stroke="#000" stroke-width="1.25"/>
<text font-size="11.3" text-anchor="end" transform="translate(68.29 797.82) scale(1.08 1)">40</text>
<line x1="71.19" y1="777.32" x2="77.79" y2="777.32" stroke="#000" stroke-width="1.25"/>
<text font-size="11.3" text-anchor="end" transform="translate(68.29 781.39) scale(1.08 1)">60</text>
<line x1="71.19" y1="760.89" x2="77.79" y2="760.89" stroke="#000" stroke-width="1.25"/>
<text font-size="11.3" text-anchor="end" transform="translate(68.29 764.96) scale(1.08 1)">80</text>
<line x1="71.19" y1="744.46" x2="77.79" y2="744.46" stroke="#000" stroke-width="1.25"/>
<text font-size="11.3" text-anchor="end" transform="translate(68.29 748.53) scale(1.08 1)">100</text>
<line x1="71.19" y1="728.03" x2="77.79" y2="728.03" stroke="#000" stroke-width="1.25"/>
<text font-size="11.3" text-anchor="end" transform="translate(68.29 732.1) scale(1.08 1)">120</text>
<line x1="90.52" y1="826.61" x2="90.52" y2="833.21" stroke="#000" stroke-width="1.25"/>
<line x1="106.63" y1="826.61" x2="106.63" y2="833.21" stroke="#000" stroke-width="1.25"/>
<line x1="122.63" y1="826.61" x2="122.63" y2="833.21" stroke="#000" stroke-width="1.25"/>
<line x1="138.87" y1="826.61" x2="138.87" y2="833.21" stroke="#000" stroke-width="1.25"/>
<circle cx="86.43" cy="744.38" r="2.6" fill="#000"/>
<circle cx="90.63" cy="744.38" r="2.6" fill="#000"/>
<circle cx="94.6" cy="744.38" r="2.6" fill="#000"/>
<circle cx="102.78" cy="746.02" r="2.6" fill="#000"/>
<circle cx="106.75" cy="742.05" r="2.6" fill="#000"/>
<circle cx="110.96" cy="743.68" r="2.6" fill="#000"/>
<line x1="122.63" y1="747.89" x2="122.63" y2="752.56" stroke="#000" stroke-width="1.25"/>
<line x1="119.63" y1="747.89" x2="125.63" y2="747.89" stroke="#000" stroke-width="1.25"/>
<line x1="119.63" y1="752.56" x2="125.63" y2="752.56" stroke="#000" stroke-width="1.25"/>
<circle cx="119.13" cy="746.25" r="2.6" fill="#000"/>
<circle cx="127.31" cy="749.75" r="2.6" fill="#000"/>
<circle cx="119.13" cy="753.26" r="2.6" fill="#000"/>
<line x1="138.87" y1="745.55" x2="138.87" y2="751.86" stroke="#000" stroke-width="1.25"/>
<line x1="135.87" y1="745.55" x2="141.87" y2="745.55" stroke="#000" stroke-width="1.25"/>
<line x1="135.87" y1="751.86" x2="141.87" y2="751.86" stroke="#000" stroke-width="1.25"/>
<circle cx="134.78" cy="743.91" r="2.6" fill="#000"/>
<circle cx="142.49" cy="747.89" r="2.6" fill="#000"/>
<circle cx="138.99" cy="753.26" r="2.6" fill="#000"/>
<text font-size="10.3" text-anchor="middle" transform="translate(33.2 777.32) rotate(-90) scale(1.08 1)">HFt uptake</text>
<text font-size="10.3" text-anchor="middle" transform="translate(46.2 777.32) rotate(-90) scale(1.08 1)">(% of Control)</text>
<text font-size="9.3" text-anchor="end" transform="translate(91.72 845.51) rotate(-35)">Control</text>
<text font-size="9.3" text-anchor="end" transform="translate(109.43 843.51) rotate(-35)">SiScr</text>
<text font-size="9.3" text-anchor="end" transform="translate(127.93 844.51) rotate(-35)">siCAV1-1</text>
<text font-size="9.3" text-anchor="end" transform="translate(145.47 844.51) rotate(-35)">siCAV1-2</text>
<path d="M106.28 728.73 H129.64 V736.21 M116.33 736.21 H142.49" fill="none" stroke="#000" stroke-width="1.25"/>
<text font-size="9.5" text-anchor="middle" transform="translate(119.13 726.06)">ns</text>
<text font-size="10.3" text-anchor="start" font-weight="bold" transform="translate(353.5 716) scale(1.08 1)">s</text>
<rect x="436.09" y="771.23" width="11.91" height="59.07" fill="#4476a2"/>
<rect x="450.98" y="760.31" width="11.91" height="69.99" fill="#4476a2"/>
<rect x="465.87" y="765.77" width="11.91" height="64.53" fill="#4476a2"/>
<rect x="480.27" y="769.5" width="12.41" height="60.81" fill="#4476a2"/>
<rect x="495.16" y="774.96" width="11.67" height="55.35" fill="#4476a2"/>
<line x1="416.23" y1="731.14" x2="416.23" y2="830.93" stroke="#000" stroke-width="1.25"/>
<line x1="409.63" y1="830.31" x2="515.02" y2="830.31" stroke="#000" stroke-width="1.25"/>
<line x1="409.63" y1="830.31" x2="416.23" y2="830.31" stroke="#000" stroke-width="1.25"/>
<text font-size="11.3" text-anchor="end" transform="translate(406.73 834.37) scale(1.08 1)">0</text>
<line x1="409.63" y1="805.67" x2="416.23" y2="805.67" stroke="#000" stroke-width="1.25"/>
<text font-size="11.3" text-anchor="end" transform="translate(406.73 809.74) scale(1.08 1)">5000</text>
<line x1="409.63" y1="781.04" x2="416.23" y2="781.04" stroke="#000" stroke-width="1.25"/>
<text font-size="11.3" text-anchor="end" transform="translate(406.73 785.11) scale(1.08 1)">10000</text>
<line x1="409.63" y1="756.4" x2="416.23" y2="756.4" stroke="#000" stroke-width="1.25"/>
<text font-size="11.3" text-anchor="end" transform="translate(406.73 760.47) scale(1.08 1)">15000</text>
<line x1="409.63" y1="731.77" x2="416.23" y2="731.77" stroke="#000" stroke-width="1.25"/>
<text font-size="11.3" text-anchor="end" transform="translate(406.73 735.84) scale(1.08 1)">20000</text>
<line x1="427.65" y1="830.31" x2="427.65" y2="836.91" stroke="#000" stroke-width="1.25"/>
<line x1="442.05" y1="830.31" x2="442.05" y2="836.91" stroke="#000" stroke-width="1.25"/>
<line x1="456.94" y1="830.31" x2="456.94" y2="836.91" stroke="#000" stroke-width="1.25"/>
<line x1="471.83" y1="830.31" x2="471.83" y2="836.91" stroke="#000" stroke-width="1.25"/>
<line x1="486.47" y1="830.31" x2="486.47" y2="836.91" stroke="#000" stroke-width="1.25"/>
<line x1="500.99" y1="830.31" x2="500.99" y2="836.91" stroke="#000" stroke-width="1.25"/>
<line x1="442.05" y1="765.77" x2="442.05" y2="771.23" stroke="#000" stroke-width="1.25"/>
<line x1="439.05" y1="765.77" x2="445.05" y2="765.77" stroke="#000" stroke-width="1.25"/>
<circle cx="442.29" cy="761.31" r="2.6" fill="#000"/>
<circle cx="442.29" cy="772.72" r="2.6" fill="#000"/>
<circle cx="442.29" cy="778.93" r="2.6" fill="#000"/>
<line x1="456.94" y1="754.6" x2="456.94" y2="760.31" stroke="#000" stroke-width="1.25"/>
<line x1="453.94" y1="754.6" x2="459.94" y2="754.6" stroke="#000" stroke-width="1.25"/>
<circle cx="456.69" cy="750.38" r="2.6" fill="#000"/>
<circle cx="453.46" cy="765.77" r="2.6" fill="#000"/>
<circle cx="460.41" cy="762.79" r="2.6" fill="#000"/>
<line x1="471.83" y1="759.57" x2="471.83" y2="765.77" stroke="#000" stroke-width="1.25"/>
<line x1="468.83" y1="759.57" x2="474.83" y2="759.57" stroke="#000" stroke-width="1.25"/>
<circle cx="471.58" cy="755.1" r="2.6" fill="#000"/>
<circle cx="471.58" cy="766.52" r="2.6" fill="#000"/>
<circle cx="471.58" cy="773.96" r="2.6" fill="#000"/>
<line x1="486.47" y1="762.79" x2="486.47" y2="769.5" stroke="#000" stroke-width="1.25"/>
<line x1="483.47" y1="762.79" x2="489.47" y2="762.79" stroke="#000" stroke-width="1.25"/>
<circle cx="485.98" cy="757.09" r="2.6" fill="#000"/>
<circle cx="482.25" cy="773.96" r="2.6" fill="#000"/>
<circle cx="489.7" cy="773.22" r="2.6" fill="#000"/>
<line x1="500.99" y1="768.26" x2="500.99" y2="774.96" stroke="#000" stroke-width="1.25"/>
<line x1="497.99" y1="768.26" x2="503.99" y2="768.26" stroke="#000" stroke-width="1.25"/>
<circle cx="500.62" cy="762.79" r="2.6" fill="#000"/>
<circle cx="500.62" cy="777.44" r="2.6" fill="#000"/>
<circle cx="500.62" cy="783.15" r="2.6" fill="#000"/>
<circle cx="423.93" cy="829.71" r="2.6" fill="#000"/>
<circle cx="427.65" cy="829.71" r="2.6" fill="#000"/>
<circle cx="431.13" cy="829.71" r="2.6" fill="#000"/>
<text font-size="10.3" text-anchor="middle" transform="translate(368.5 783) rotate(-90) scale(1.08 1)">HFt uptake (MFI)</text>
<text font-size="9.2" text-anchor="end" transform="translate(419.5 846)">HFt-AF488</text>
<line x1="426.15" y1="843.2" x2="429.15" y2="843.2" stroke="#000" stroke-width="0.9"/>
<line x1="439.75" y1="842.8" x2="444.35" y2="842.8" stroke="#000" stroke-width="0.9"/>
<line x1="442.05" y1="840.5" x2="442.05" y2="845.1" stroke="#000" stroke-width="0.9"/>
<line x1="454.64" y1="842.8" x2="459.24" y2="842.8" stroke="#000" stroke-width="0.9"/>
<line x1="456.94" y1="840.5" x2="456.94" y2="845.1" stroke="#000" stroke-width="0.9"/>
<line x1="469.53" y1="842.8" x2="474.13" y2="842.8" stroke="#000" stroke-width="0.9"/>
<line x1="471.83" y1="840.5" x2="471.83" y2="845.1" stroke="#000" stroke-width="0.9"/>
<line x1="484.17" y1="842.8" x2="488.77" y2="842.8" stroke="#000" stroke-width="0.9"/>
<line x1="486.47" y1="840.5" x2="486.47" y2="845.1" stroke="#000" stroke-width="0.9"/>
<line x1="498.69" y1="842.8" x2="503.29" y2="842.8" stroke="#000" stroke-width="0.9"/>
<line x1="500.99" y1="840.5" x2="500.99" y2="845.1" stroke="#000" stroke-width="0.9"/>
<text font-size="9.2" text-anchor="end" transform="translate(419.5 860)">ML141 (µM)</text>
<line x1="426.15" y1="857.2" x2="429.15" y2="857.2" stroke="#000" stroke-width="0.9"/>
<line x1="440.55" y1="857.2" x2="443.55" y2="857.2" stroke="#000" stroke-width="0.9"/>
<text font-size="9.8" text-anchor="middle" transform="translate(459.14 861.2) rotate(-38)">2.5</text>
<text font-size="9.8" text-anchor="middle" transform="translate(474.03 861.2) rotate(-38)">5</text>
<text font-size="9.8" text-anchor="middle" transform="translate(488.67 861.2) rotate(-38)">10</text>
<text font-size="9.8" text-anchor="middle" transform="translate(503.19 861.2) rotate(-38)">20</text>
<path d="M441.8 733.51 H477.79 V745.42 M452.97 745.42 H502.61" fill="none" stroke="#000" stroke-width="1.25"/>
<text font-size="9.5" text-anchor="middle" transform="translate(461.16 731.94)">ns</text>
<text font-size="10.3" text-anchor="start" font-weight="bold" transform="translate(523.2 716) scale(1.08 1)">t</text>
<rect x="605.1" y="773.96" width="12.16" height="55.85" fill="#4476a2"/>
<rect x="619.99" y="771.98" width="12.16" height="57.83" fill="#4476a2"/>
<rect x="634.88" y="773.22" width="12.16" height="56.59" fill="#4476a2"/>
<rect x="649.77" y="775.7" width="12.16" height="54.11" fill="#4476a2"/>
<rect x="664.42" y="786.13" width="11.91" height="43.68" fill="#4476a2"/>
<line x1="585.24" y1="731.14" x2="585.24" y2="830.43" stroke="#000" stroke-width="1.25"/>
<line x1="578.64" y1="829.81" x2="685.02" y2="829.81" stroke="#000" stroke-width="1.25"/>
<line x1="578.64" y1="829.81" x2="585.24" y2="829.81" stroke="#000" stroke-width="1.25"/>
<text font-size="11.3" text-anchor="end" transform="translate(575.74 833.88) scale(1.08 1)">0</text>
<line x1="578.64" y1="797.13" x2="585.24" y2="797.13" stroke="#000" stroke-width="1.25"/>
<text font-size="11.3" text-anchor="end" transform="translate(575.74 801.2) scale(1.08 1)">5000</text>
<line x1="578.64" y1="764.45" x2="585.24" y2="764.45" stroke="#000" stroke-width="1.25"/>
<text font-size="11.3" text-anchor="end" transform="translate(575.74 768.52) scale(1.08 1)">10000</text>
<line x1="578.64" y1="731.77" x2="585.24" y2="731.77" stroke="#000" stroke-width="1.25"/>
<text font-size="11.3" text-anchor="end" transform="translate(575.74 735.84) scale(1.08 1)">15000</text>
<line x1="596.91" y1="829.81" x2="596.91" y2="836.41" stroke="#000" stroke-width="1.25"/>
<line x1="611.18" y1="829.81" x2="611.18" y2="836.41" stroke="#000" stroke-width="1.25"/>
<line x1="626.07" y1="829.81" x2="626.07" y2="836.41" stroke="#000" stroke-width="1.25"/>
<line x1="640.96" y1="829.81" x2="640.96" y2="836.41" stroke="#000" stroke-width="1.25"/>
<line x1="655.85" y1="829.81" x2="655.85" y2="836.41" stroke="#000" stroke-width="1.25"/>
<line x1="670.37" y1="829.81" x2="670.37" y2="836.41" stroke="#000" stroke-width="1.25"/>
<line x1="611.18" y1="764.53" x2="611.18" y2="783.89" stroke="#000" stroke-width="1.25"/>
<line x1="608.18" y1="764.53" x2="614.18" y2="764.53" stroke="#000" stroke-width="1.25"/>
<line x1="608.18" y1="783.89" x2="614.18" y2="783.89" stroke="#000" stroke-width="1.25"/>
<circle cx="611.3" cy="759.57" r="2.6" fill="#000"/>
<circle cx="611.3" cy="771.48" r="2.6" fill="#000"/>
<circle cx="611.3" cy="791.34" r="2.6" fill="#000"/>
<line x1="626.07" y1="764.53" x2="626.07" y2="779.42" stroke="#000" stroke-width="1.25"/>
<line x1="623.07" y1="764.53" x2="629.07" y2="764.53" stroke="#000" stroke-width="1.25"/>
<line x1="623.07" y1="779.42" x2="629.07" y2="779.42" stroke="#000" stroke-width="1.25"/>
<circle cx="625.95" cy="758.82" r="2.6" fill="#000"/>
<circle cx="625.95" cy="775.2" r="2.6" fill="#000"/>
<circle cx="625.95" cy="780.17" r="2.6" fill="#000"/>
<line x1="640.96" y1="766.27" x2="640.96" y2="780.17" stroke="#000" stroke-width="1.25"/>
<line x1="637.96" y1="766.27" x2="643.96" y2="766.27" stroke="#000" stroke-width="1.25"/>
<line x1="637.96" y1="780.17" x2="643.96" y2="780.17" stroke="#000" stroke-width="1.25"/>
<circle cx="640.84" cy="760.81" r="2.6" fill="#000"/>
<circle cx="640.84" cy="774.46" r="2.6" fill="#000"/>
<circle cx="640.84" cy="783.89" r="2.6" fill="#000"/>
<line x1="655.85" y1="767.01" x2="655.85" y2="783.89" stroke="#000" stroke-width="1.25"/>
<line x1="652.85" y1="767.01" x2="658.85" y2="767.01" stroke="#000" stroke-width="1.25"/>
<line x1="652.85" y1="783.89" x2="658.85" y2="783.89" stroke="#000" stroke-width="1.25"/>
<circle cx="655.23" cy="761.55" r="2.6" fill="#000"/>
<circle cx="655.23" cy="775.7" r="2.6" fill="#000"/>
<circle cx="655.23" cy="788.86" r="2.6" fill="#000"/>
<line x1="670.37" y1="774.46" x2="670.37" y2="795.56" stroke="#000" stroke-width="1.25"/>
<line x1="667.37" y1="774.46" x2="673.37" y2="774.46" stroke="#000" stroke-width="1.25"/>
<line x1="667.37" y1="795.56" x2="673.37" y2="795.56" stroke="#000" stroke-width="1.25"/>
<circle cx="669.63" cy="770.24" r="2.6" fill="#000"/>
<circle cx="669.63" cy="780.67" r="2.6" fill="#000"/>
<circle cx="669.63" cy="804.24" r="2.6" fill="#000"/>
<circle cx="593.18" cy="829.21" r="2.6" fill="#000"/>
<circle cx="596.91" cy="829.21" r="2.6" fill="#000"/>
<circle cx="600.63" cy="829.21" r="2.6" fill="#000"/>
<text font-size="10.3" text-anchor="middle" transform="translate(538.5 776.8) rotate(-90) scale(1.08 1)">HFt uptake (MFI)</text>
<text font-size="9.2" text-anchor="end" transform="translate(589.5 846)">HFt-AF488</text>
<line x1="595.41" y1="843.2" x2="598.41" y2="843.2" stroke="#000" stroke-width="0.9"/>
<line x1="608.88" y1="842.8" x2="613.48" y2="842.8" stroke="#000" stroke-width="0.9"/>
<line x1="611.18" y1="840.5" x2="611.18" y2="845.1" stroke="#000" stroke-width="0.9"/>
<line x1="623.77" y1="842.8" x2="628.37" y2="842.8" stroke="#000" stroke-width="0.9"/>
<line x1="626.07" y1="840.5" x2="626.07" y2="845.1" stroke="#000" stroke-width="0.9"/>
<line x1="638.66" y1="842.8" x2="643.26" y2="842.8" stroke="#000" stroke-width="0.9"/>
<line x1="640.96" y1="840.5" x2="640.96" y2="845.1" stroke="#000" stroke-width="0.9"/>
<line x1="653.55" y1="842.8" x2="658.15" y2="842.8" stroke="#000" stroke-width="0.9"/>
<line x1="655.85" y1="840.5" x2="655.85" y2="845.1" stroke="#000" stroke-width="0.9"/>
<line x1="668.07" y1="842.8" x2="672.67" y2="842.8" stroke="#000" stroke-width="0.9"/>
<line x1="670.37" y1="840.5" x2="670.37" y2="845.1" stroke="#000" stroke-width="0.9"/>
<text font-size="9.2" text-anchor="end" transform="translate(589.5 860)">ML141 (µM)</text>
<line x1="595.41" y1="857.2" x2="598.41" y2="857.2" stroke="#000" stroke-width="0.9"/>
<line x1="609.68" y1="857.2" x2="612.68" y2="857.2" stroke="#000" stroke-width="0.9"/>
<text font-size="9.8" text-anchor="middle" transform="translate(628.27 861.2) rotate(-38)">2.5</text>
<text font-size="9.8" text-anchor="middle" transform="translate(643.16 861.2) rotate(-38)">5</text>
<text font-size="9.8" text-anchor="middle" transform="translate(658.05 861.2) rotate(-38)">10</text>
<text font-size="9.8" text-anchor="middle" transform="translate(672.57 861.2) rotate(-38)">20</text>
<path d="M611.3 737.23 H646.55 V748.4 M622.22 748.4 H671.86" fill="none" stroke="#000" stroke-width="1.25"/>
<text font-size="9.5" text-anchor="middle" transform="translate(630.41 735.67)">ns</text>
<text font-size="10.3" text-anchor="start" font-weight="bold" transform="translate(404.5 11.4) scale(1.08 1)">c</text>
<rect x="409.9" y="13.6" width="64.2" height="13.6" fill="#fff" stroke="#111" stroke-width="1"/>
<text font-size="10.3" text-anchor="middle" transform="translate(442 24.83) scale(1.04 1)">HFt</text>
<rect x="477.3" y="13.6" width="64.2" height="13.6" fill="#fff" stroke="#111" stroke-width="1"/>
<text font-size="10.3" text-anchor="middle" transform="translate(509.4 24.83) scale(1.04 1)">EEA1</text>
<rect x="544.7" y="13.6" width="64.2" height="13.6" fill="#fff" stroke="#111" stroke-width="1"/>
<text font-size="10.3" text-anchor="middle" transform="translate(576.8 24.83) scale(1.04 1)">Nuclei</text>
<rect x="612" y="13.6" width="64.2" height="13.6" fill="#fff" stroke="#111" stroke-width="1"/>
<text font-size="10.3" text-anchor="middle" transform="translate(644.1 24.13) scale(1.04 1)">Merge</text>
<line x1="390.1" y1="29.2" x2="390.1" y2="161.4" stroke="#000" stroke-width="1.3"/>
<text font-size="10.3" text-anchor="middle" transform="translate(388.2 95.4) rotate(-90)">HFt-AF488</text>
<rect x="393.7" y="30.1" width="13.5" height="63.7" fill="#fff" stroke="#111" stroke-width="1"/>
<text font-size="10.3" text-anchor="middle" transform="translate(404.16 61.95) rotate(-90) scale(1.04 1)">Control</text>
<clipPath id="cp1"><rect x="409.4" y="29.6" width="65.2" height="64.7"/></clipPath>
<rect x="409.4" y="29.6" width="65.2" height="64.7" fill="#000"/>
<g clip-path="url(#cp1)"><g transform="translate(409.4 29.6)" style="isolation:isolate">
<g filter="url(#gtex)" style="mix-blend-mode:screen"><ellipse cx="31.7" cy="6.1" rx="14.5" ry="5.2" fill="url(#gg)" opacity="1" transform="rotate(-12 31.7 6.1)"/>
<path fill-rule="evenodd" fill="url(#gg)" opacity="1" d="M0.3 25.5 a12.5 12 0 1 0 25 0 a12.5 12 0 1 0 -25 0 Z M13.5 27 a3 2.55 0 1 0 6 0 a3 2.55 0 1 0 -6 0 Z"/>
<path fill-rule="evenodd" fill="url(#gg)" opacity="1" d="M37 23.5 a13 12.5 0 1 0 26 0 a13 12.5 0 1 0 -26 0 Z M43.5 26 a3 2.55 0 1 0 6 0 a3 2.55 0 1 0 -6 0 Z"/>
<ellipse cx="27.6" cy="40.3" rx="5.2" ry="11.5" fill="url(#gg)" opacity="1" transform="rotate(22 27.6 40.3)"/>
<path fill-rule="evenodd" fill="url(#gg)" opacity="1" d="M39.6 54 a11.5 11.5 0 1 0 23 0 a11.5 11.5 0 1 0 -23 0 Z M48.2 57 a2.8 2.38 0 1 0 5.6 0 a2.8 2.38 0 1 0 -5.6 0 Z"/>
<path fill-rule="evenodd" fill="url(#gg)" opacity="1" transform="rotate(-30 12.5 61.7)" d="M7 61.7 a5.5 4 0 1 0 11 0 a5.5 4 0 1 0 -11 0 Z M10.7 62.7 a2 1.7 0 1 0 4 0 a2 1.7 0 1 0 -4 0 Z"/></g>
<g filter="url(#soft)" style="mix-blend-mode:screen"><ellipse cx="11.2" cy="26" rx="15" ry="15" fill="url(#ggd)" opacity="0.22"/>
<ellipse cx="49" cy="22.9" rx="17" ry="16" fill="url(#ggd)" opacity="0.22"/>
<ellipse cx="51" cy="53.5" rx="14" ry="14" fill="url(#ggd)" opacity="0.2"/>
<ellipse cx="20" cy="52" rx="3" ry="8" fill="url(#ggd)" opacity="0.5" transform="rotate(35 20 52)"/></g>
</g></g>
<clipPath id="cp2"><rect x="476.8" y="29.6" width="65.2" height="64.7"/></clipPath>
<rect x="476.8" y="29.6" width="65.2" height="64.7" fill="#000"/>
<g clip-path="url(#cp2)"><g transform="translate(476.8 29.6)" style="isolation:isolate">
<g filter="url(#gtex)" style="mix-blend-mode:screen"><ellipse cx="33.7" cy="5.5" rx="13" ry="4.6" fill="url(#gr1)" opacity="0.7" transform="rotate(-12 33.7 5.5)"/>
<path fill-rule="evenodd" fill="url(#gr1)" opacity="0.92" d="M-0.7 25 a14 13.5 0 1 0 28 0 a14 13.5 0 1 0 -28 0 Z M13.9 27 a2.6 2.21 0 1 0 5.2 0 a2.6 2.21 0 1 0 -5.2 0 Z"/>
<path fill-rule="evenodd" fill="url(#gr1)" opacity="0.92" d="M35 22.5 a15 14 0 1 0 30 0 a15 14 0 1 0 -30 0 Z M43.9 26 a2.6 2.21 0 1 0 5.2 0 a2.6 2.21 0 1 0 -5.2 0 Z"/>
<path fill-rule="evenodd" fill="url(#gr1)" opacity="0.85" transform="rotate(22 27.6 41.3)" d="M21.6 41.3 a6 11.5 0 1 0 12 0 a6 11.5 0 1 0 -12 0 Z M26.7 41.5 a1.8 1.53 0 1 0 3.6 0 a1.8 1.53 0 1 0 -3.6 0 Z"/>
<ellipse cx="52.1" cy="53.5" rx="12.5" ry="12.5" fill="url(#gr1)" opacity="0.92"/>
<path fill-rule="evenodd" fill="url(#gr1)" opacity="0.9" transform="rotate(-30 13.3 62)" d="M7.8 62 a5.5 4 0 1 0 11 0 a5.5 4 0 1 0 -11 0 Z M10.7 62.7 a2 1.7 0 1 0 4 0 a2 1.7 0 1 0 -4 0 Z"/>
<ellipse cx="1" cy="2" rx="2.5" ry="4" fill="url(#gr1)" opacity="1"/></g>
<g filter="url(#soft)" style="mix-blend-mode:screen"><ellipse cx="13.3" cy="25" rx="18" ry="18" fill="url(#gr)" opacity="0.2"/>
<ellipse cx="50" cy="21.9" rx="19" ry="18" fill="url(#gr)" opacity="0.2"/>
<ellipse cx="52" cy="53.5" rx="16" ry="16" fill="url(#gr)" opacity="0.18"/>
<ellipse cx="20" cy="52" rx="2.5" ry="8" fill="url(#gr)" opacity="0.4" transform="rotate(35 20 52)"/></g>
</g></g>
<clipPath id="cp3"><rect x="544.2" y="29.6" width="65.2" height="64.7"/></clipPath>
<rect x="544.2" y="29.6" width="65.2" height="64.7" fill="#000"/>
<g clip-path="url(#cp3)"><g transform="translate(544.2 29.6)" style="isolation:isolate">
<g filter="url(#nuc)" style="mix-blend-mode:screen"><ellipse cx="32.1" cy="6.5" rx="3.26" ry="3.16" fill="#1c18f4" fill-opacity="1"/>
<ellipse cx="16.4" cy="28" rx="3.26" ry="3.91" fill="#1c18f4" fill-opacity="1"/>
<ellipse cx="46" cy="26.4" rx="3.91" ry="3.07" fill="#1c18f4" fill-opacity="1" transform="rotate(15 46 26.4)"/>
<ellipse cx="50.5" cy="20.8" rx="3.16" ry="3.35" fill="#1c18f4" fill-opacity="0.6"/>
<ellipse cx="29" cy="41.7" rx="2.79" ry="4.19" fill="#1c18f4" fill-opacity="1" transform="rotate(20 29 41.7)"/>
<ellipse cx="51.1" cy="56" rx="4.84" ry="4.19" fill="#1c18f4" fill-opacity="1"/>
<ellipse cx="12.7" cy="62.7" rx="3.72" ry="3.16" fill="#1c18f4" fill-opacity="1" transform="rotate(-15 12.7 62.7)"/></g>
</g></g>
<clipPath id="cp4"><rect x="611.5" y="29.6" width="65.2" height="64.7"/></clipPath>
<rect x="611.5" y="29.6" width="65.2" height="64.7" fill="#000"/>
<g clip-path="url(#cp4)"><g transform="translate(611.5 29.6)" style="isolation:isolate">
<g filter="url(#gtex)" style="mix-blend-mode:screen"><ellipse cx="33.7" cy="5.5" rx="13" ry="4.6" fill="url(#gr1)" opacity="0.7" transform="rotate(-12 33.7 5.5)"/>
<path fill-rule="evenodd" fill="url(#gr1)" opacity="0.92" d="M-0.7 25 a14 13.5 0 1 0 28 0 a14 13.5 0 1 0 -28 0 Z M13.9 27 a2.6 2.21 0 1 0 5.2 0 a2.6 2.21 0 1 0 -5.2 0 Z"/>
<path fill-rule="evenodd" fill="url(#gr1)" opacity="0.92" d="M35 22.5 a15 14 0 1 0 30 0 a15 14 0 1 0 -30 0 Z M43.9 26 a2.6 2.21 0 1 0 5.2 0 a2.6 2.21 0 1 0 -5.2 0 Z"/>
<path fill-rule="evenodd" fill="url(#gr1)" opacity="0.85" transform="rotate(22 27.6 41.3)" d="M21.6 41.3 a6 11.5 0 1 0 12 0 a6 11.5 0 1 0 -12 0 Z M26.7 41.5 a1.8 1.53 0 1 0 3.6 0 a1.8 1.53 0 1 0 -3.6 0 Z"/>
<ellipse cx="52.1" cy="53.5" rx="12.5" ry="12.5" fill="url(#gr1)" opacity="0.92"/>
<path fill-rule="evenodd" fill="url(#gr1)" opacity="0.9" transform="rotate(-30 13.3 62)" d="M7.8 62 a5.5 4 0 1 0 11 0 a5.5 4 0 1 0 -11 0 Z M10.7 62.7 a2 1.7 0 1 0 4 0 a2 1.7 0 1 0 -4 0 Z"/>
<ellipse cx="1" cy="2" rx="2.5" ry="4" fill="url(#gr1)" opacity="1"/></g>
<g filter="url(#soft)" style="mix-blend-mode:screen"><ellipse cx="13.3" cy="25" rx="18" ry="18" fill="url(#gr)" opacity="0.2"/>
<ellipse cx="50" cy="21.9" rx="19" ry="18" fill="url(#gr)" opacity="0.2"/>
<ellipse cx="52" cy="53.5" rx="16" ry="16" fill="url(#gr)" opacity="0.18"/>
<ellipse cx="20" cy="52" rx="2.5" ry="8" fill="url(#gr)" opacity="0.4" transform="rotate(35 20 52)"/></g>
<g filter="url(#gtex)" style="mix-blend-mode:screen"><ellipse cx="31.7" cy="6.1" rx="14.5" ry="5.2" fill="url(#gg)" opacity="1" transform="rotate(-12 31.7 6.1)"/>
<path fill-rule="evenodd" fill="url(#gg)" opacity="1" d="M0.3 25.5 a12.5 12 0 1 0 25 0 a12.5 12 0 1 0 -25 0 Z M13.5 27 a3 2.55 0 1 0 6 0 a3 2.55 0 1 0 -6 0 Z"/>
<path fill-rule="evenodd" fill="url(#gg)" opacity="1" d="M37 23.5 a13 12.5 0 1 0 26 0 a13 12.5 0 1 0 -26 0 Z M43.5 26 a3 2.55 0 1 0 6 0 a3 2.55 0 1 0 -6 0 Z"/>
<ellipse cx="27.6" cy="40.3" rx="5.2" ry="11.5" fill="url(#gg)" opacity="1" transform="rotate(22 27.6 40.3)"/>
<path fill-rule="evenodd" fill="url(#gg)" opacity="1" d="M39.6 54 a11.5 11.5 0 1 0 23 0 a11.5 11.5 0 1 0 -23 0 Z M48.2 57 a2.8 2.38 0 1 0 5.6 0 a2.8 2.38 0 1 0 -5.6 0 Z"/>
<path fill-rule="evenodd" fill="url(#gg)" opacity="1" transform="rotate(-30 12.5 61.7)" d="M7 61.7 a5.5 4 0 1 0 11 0 a5.5 4 0 1 0 -11 0 Z M10.7 62.7 a2 1.7 0 1 0 4 0 a2 1.7 0 1 0 -4 0 Z"/></g>
<g filter="url(#soft)" style="mix-blend-mode:screen"><ellipse cx="11.2" cy="26" rx="15" ry="15" fill="url(#ggd)" opacity="0.22"/>
<ellipse cx="49" cy="22.9" rx="17" ry="16" fill="url(#ggd)" opacity="0.22"/>
<ellipse cx="51" cy="53.5" rx="14" ry="14" fill="url(#ggd)" opacity="0.2"/>
<ellipse cx="20" cy="52" rx="3" ry="8" fill="url(#ggd)" opacity="0.5" transform="rotate(35 20 52)"/></g>
<g filter="url(#nuc)" opacity="0.84"><ellipse cx="32.1" cy="6.5" rx="3.26" ry="3.16" fill="#3a2cff" fill-opacity="1"/>
<ellipse cx="16.4" cy="28" rx="3.26" ry="3.91" fill="#3a2cff" fill-opacity="1"/>
<ellipse cx="46" cy="26.4" rx="3.91" ry="3.07" fill="#3a2cff" fill-opacity="1" transform="rotate(15 46 26.4)"/>
<ellipse cx="50.5" cy="20.8" rx="3.16" ry="3.35" fill="#3a2cff" fill-opacity="0.6"/>
<ellipse cx="29" cy="41.7" rx="2.79" ry="4.19" fill="#3a2cff" fill-opacity="1" transform="rotate(20 29 41.7)"/>
<ellipse cx="51.1" cy="56" rx="4.84" ry="4.19" fill="#3a2cff" fill-opacity="1"/>
<ellipse cx="12.7" cy="62.7" rx="3.72" ry="3.16" fill="#3a2cff" fill-opacity="1" transform="rotate(-15 12.7 62.7)"/></g>
</g></g>
<rect x="658.3" y="89.2" width="14.7" height="2.9" fill="#fff"/>
<rect x="393.7" y="97.1" width="13.5" height="63.6" fill="#fff" stroke="#111" stroke-width="1"/>
<text font-size="10.3" text-anchor="middle" transform="translate(404.16 128.9) rotate(-90) scale(1.04 1)">CPZ</text>
<clipPath id="cp5"><rect x="409.4" y="96.6" width="65.2" height="64.6"/></clipPath>
<rect x="409.4" y="96.6" width="65.2" height="64.6" fill="#000"/>
<g clip-path="url(#cp5)"><g transform="translate(409.4 96.6)" style="isolation:isolate">
<g filter="url(#stex)" style="mix-blend-mode:screen"><ellipse cx="6.1" cy="9.6" rx="6" ry="11" fill="url(#ggd)" opacity="0.55" transform="rotate(15 6.1 9.6)"/>
<ellipse cx="34.7" cy="10.6" rx="6" ry="6" fill="url(#ggd)" opacity="0.6"/>
<ellipse cx="58.2" cy="18.8" rx="8" ry="8" fill="url(#ggd)" opacity="0.55"/>
<ellipse cx="28.6" cy="39.2" rx="12.9" ry="10.9" fill="#3cb43c" fill-opacity="0.71" stroke="#3cb43c" stroke-opacity="0.95" stroke-width="2.2"/>
<ellipse cx="6" cy="43" rx="9" ry="2.5" fill="url(#ggd)" opacity="0.6" transform="rotate(-8 6 43)"/>
<ellipse cx="49" cy="48" rx="3.2" ry="3.2" fill="#3cb43c" fill-opacity="0.52" stroke="#3cb43c" stroke-opacity="0.7" stroke-width="1.6"/>
<ellipse cx="59.3" cy="54.2" rx="5" ry="5" fill="url(#ggd)" opacity="0.5"/>
<ellipse cx="17.4" cy="60.7" rx="12" ry="4.2" fill="url(#ggd)" opacity="0.55" transform="rotate(5 17.4 60.7)"/>
<ellipse cx="30" cy="62.5" rx="6" ry="1" fill="url(#ggd)" opacity="0.5" transform="rotate(3 30 62.5)"/></g>
</g></g>
<clipPath id="cp6"><rect x="476.8" y="96.6" width="65.2" height="64.6"/></clipPath>
<rect x="476.8" y="96.6" width="65.2" height="64.6" fill="#000"/>
<g clip-path="url(#cp6)"><g transform="translate(476.8 96.6)" style="isolation:isolate">
<g filter="url(#stex)" style="mix-blend-mode:screen"><ellipse cx="7.2" cy="9.6" rx="6" ry="11" fill="url(#grs)" opacity="1" transform="rotate(15 7.2 9.6)"/>
<path fill-rule="evenodd" fill="url(#grs)" opacity="1" d="M28.2 10.6 a6.5 6.5 0 1 0 13 0 a6.5 6.5 0 1 0 -13 0 Z M33.6 9.5 a2.4 2.04 0 1 0 4.8 0 a2.4 2.04 0 1 0 -4.8 0 Z"/>
<path fill-rule="evenodd" fill="url(#grs)" opacity="1" d="M50.2 18.8 a8 8.5 0 1 0 16 0 a8 8.5 0 1 0 -16 0 Z M53.9 16.5 a2.6 2.21 0 1 0 5.2 0 a2.6 2.21 0 1 0 -5.2 0 Z"/>
<path fill-rule="evenodd" fill="url(#grs)" opacity="1" d="M13.6 39.2 a14 12 0 1 0 28 0 a14 12 0 1 0 -28 0 Z M21.1 33.5 a2.4 2.04 0 1 0 4.8 0 a2.4 2.04 0 1 0 -4.8 0 Z"/>
<ellipse cx="6" cy="43" rx="9" ry="2.5" fill="url(#grs)" opacity="0.9" transform="rotate(-8 6 43)"/>
<path fill-rule="evenodd" fill="url(#grs)" opacity="1" d="M43.5 48 a4.5 4.5 0 1 0 9 0 a4.5 4.5 0 1 0 -9 0 Z M46.4 48 a1.6 1.36 0 1 0 3.2 0 a1.6 1.36 0 1 0 -3.2 0 Z"/>
<path fill-rule="evenodd" fill="url(#grs)" opacity="1" d="M53.8 54.2 a5.5 5.5 0 1 0 11 0 a5.5 5.5 0 1 0 -11 0 Z M56 55.5 a2 1.7 0 1 0 4 0 a2 1.7 0 1 0 -4 0 Z"/>
<ellipse cx="15.3" cy="59.7" rx="12" ry="4.8" fill="url(#grs)" opacity="1" transform="rotate(5 15.3 59.7)"/>
<ellipse cx="30" cy="62.2" rx="7" ry="1.1" fill="url(#grs)" opacity="0.9" transform="rotate(3 30 62.2)"/></g>
</g></g>
<clipPath id="cp7"><rect x="544.2" y="96.6" width="65.2" height="64.6"/></clipPath>
<rect x="544.2" y="96.6" width="65.2" height="64.6" fill="#000"/>
<g clip-path="url(#cp7)"><g transform="translate(544.2 96.6)" style="isolation:isolate">
<g filter="url(#nuc)" style="mix-blend-mode:screen"><ellipse cx="10.2" cy="8.6" rx="2.33" ry="3.44" fill="#1c18f4" fill-opacity="1" transform="rotate(10 10.2 8.6)"/>
<ellipse cx="35.8" cy="9.2" rx="3.72" ry="3.91" fill="#1c18f4" fill-opacity="1"/>
<ellipse cx="56.2" cy="16.1" rx="3.72" ry="3.44" fill="#1c18f4" fill-opacity="1"/>
<ellipse cx="23.9" cy="32.5" rx="3.72" ry="3.26" fill="#1c18f4" fill-opacity="1" transform="rotate(-20 23.9 32.5)"/>
<ellipse cx="29" cy="48" rx="4.19" ry="3.07" fill="#1c18f4" fill-opacity="1"/>
<ellipse cx="57.2" cy="55.6" rx="2.79" ry="3.35" fill="#1c18f4" fill-opacity="1" transform="rotate(-20 57.2 55.6)"/>
<ellipse cx="12.7" cy="62.1" rx="3.26" ry="3.35" fill="#1c18f4" fill-opacity="1" transform="rotate(20 12.7 62.1)"/></g>
</g></g>
<clipPath id="cp8"><rect x="611.5" y="96.6" width="65.2" height="64.6"/></clipPath>
<rect x="611.5" y="96.6" width="65.2" height="64.6" fill="#000"/>
<g clip-path="url(#cp8)"><g transform="translate(611.5 96.6)" style="isolation:isolate">
<g filter="url(#stex)" style="mix-blend-mode:screen"><ellipse cx="7.2" cy="9.6" rx="6" ry="11" fill="url(#grs)" opacity="1" transform="rotate(15 7.2 9.6)"/>
<path fill-rule="evenodd" fill="url(#grs)" opacity="1" d="M28.2 10.6 a6.5 6.5 0 1 0 13 0 a6.5 6.5 0 1 0 -13 0 Z M33.6 9.5 a2.4 2.04 0 1 0 4.8 0 a2.4 2.04 0 1 0 -4.8 0 Z"/>
<path fill-rule="evenodd" fill="url(#grs)" opacity="1" d="M50.2 18.8 a8 8.5 0 1 0 16 0 a8 8.5 0 1 0 -16 0 Z M53.9 16.5 a2.6 2.21 0 1 0 5.2 0 a2.6 2.21 0 1 0 -5.2 0 Z"/>
<path fill-rule="evenodd" fill="url(#grs)" opacity="1" d="M13.6 39.2 a14 12 0 1 0 28 0 a14 12 0 1 0 -28 0 Z M21.1 33.5 a2.4 2.04 0 1 0 4.8 0 a2.4 2.04 0 1 0 -4.8 0 Z"/>
<ellipse cx="6" cy="43" rx="9" ry="2.5" fill="url(#grs)" opacity="0.9" transform="rotate(-8 6 43)"/>
<path fill-rule="evenodd" fill="url(#grs)" opacity="1" d="M43.5 48 a4.5 4.5 0 1 0 9 0 a4.5 4.5 0 1 0 -9 0 Z M46.4 48 a1.6 1.36 0 1 0 3.2 0 a1.6 1.36 0 1 0 -3.2 0 Z"/>
<path fill-rule="evenodd" fill="url(#grs)" opacity="1" d="M53.8 54.2 a5.5 5.5 0 1 0 11 0 a5.5 5.5 0 1 0 -11 0 Z M56 55.5 a2 1.7 0 1 0 4 0 a2 1.7 0 1 0 -4 0 Z"/>
<ellipse cx="15.3" cy="59.7" rx="12" ry="4.8" fill="url(#grs)" opacity="1" transform="rotate(5 15.3 59.7)"/>
<ellipse cx="30" cy="62.2" rx="7" ry="1.1" fill="url(#grs)" opacity="0.9" transform="rotate(3 30 62.2)"/></g>
<g filter="url(#stex)" style="mix-blend-mode:screen" opacity="0.55"><ellipse cx="6.1" cy="9.6" rx="6" ry="11" fill="url(#ggd)" opacity="0.55" transform="rotate(15 6.1 9.6)"/>
<ellipse cx="34.7" cy="10.6" rx="6" ry="6" fill="url(#ggd)" opacity="0.6"/>
<ellipse cx="58.2" cy="18.8" rx="8" ry="8" fill="url(#ggd)" opacity="0.55"/>
<ellipse cx="28.6" cy="39.2" rx="12.9" ry="10.9" fill="#3cb43c" fill-opacity="0.71" stroke="#3cb43c" stroke-opacity="0.95" stroke-width="2.2"/>
<ellipse cx="6" cy="43" rx="9" ry="2.5" fill="url(#ggd)" opacity="0.6" transform="rotate(-8 6 43)"/>
<ellipse cx="49" cy="48" rx="3.2" ry="3.2" fill="#3cb43c" fill-opacity="0.52" stroke="#3cb43c" stroke-opacity="0.7" stroke-width="1.6"/>
<ellipse cx="59.3" cy="54.2" rx="5" ry="5" fill="url(#ggd)" opacity="0.5"/>
<ellipse cx="17.4" cy="60.7" rx="12" ry="4.2" fill="url(#ggd)" opacity="0.55" transform="rotate(5 17.4 60.7)"/>
<ellipse cx="30" cy="62.5" rx="6" ry="1" fill="url(#ggd)" opacity="0.5" transform="rotate(3 30 62.5)"/></g>
<g filter="url(#nuc)" opacity="0.84"><ellipse cx="10.2" cy="8.6" rx="2.33" ry="3.44" fill="#3a2cff" fill-opacity="1" transform="rotate(10 10.2 8.6)"/>
<ellipse cx="35.8" cy="9.2" rx="3.72" ry="3.91" fill="#3a2cff" fill-opacity="1"/>
<ellipse cx="56.2" cy="16.1" rx="3.72" ry="3.44" fill="#3a2cff" fill-opacity="1"/>
<ellipse cx="23.9" cy="32.5" rx="3.72" ry="3.26" fill="#3a2cff" fill-opacity="1" transform="rotate(-20 23.9 32.5)"/>
<ellipse cx="29" cy="48" rx="4.19" ry="3.07" fill="#3a2cff" fill-opacity="1"/>
<ellipse cx="57.2" cy="55.6" rx="2.79" ry="3.35" fill="#3a2cff" fill-opacity="1" transform="rotate(-20 57.2 55.6)"/>
<ellipse cx="12.7" cy="62.1" rx="3.26" ry="3.35" fill="#3a2cff" fill-opacity="1" transform="rotate(20 12.7 62.1)"/></g>
</g></g>
<rect x="658.3" y="156.6" width="14.7" height="2.9" fill="#fff"/>
<text font-size="10.3" text-anchor="start" font-weight="bold" transform="translate(20 376.2) scale(1.08 1)">i</text>
<rect x="43.9" y="373.8" width="64.1" height="13.3" fill="#fff" stroke="#111" stroke-width="1"/>
<text font-size="10.3" text-anchor="middle" transform="translate(75.95 384.88) scale(1.04 1)">HFt</text>
<rect x="111.1" y="373.8" width="64.1" height="13.3" fill="#fff" stroke="#111" stroke-width="1"/>
<text font-size="10.3" text-anchor="middle" transform="translate(143.15 384.88) scale(1.04 1)">EEA1</text>
<rect x="178.4" y="373.8" width="64.1" height="13.3" fill="#fff" stroke="#111" stroke-width="1"/>
<text font-size="10.3" text-anchor="middle" transform="translate(210.45 384.88) scale(1.04 1)">Nuclei</text>
<rect x="245.6" y="373.8" width="64.1" height="13.3" fill="#fff" stroke="#111" stroke-width="1"/>
<text font-size="10.3" text-anchor="middle" transform="translate(277.65 384.18) scale(1.04 1)">Merge</text>
<line x1="23.9" y1="389.1" x2="23.9" y2="522.1" stroke="#000" stroke-width="1.3"/>
<text font-size="10.3" text-anchor="middle" transform="translate(22.3 455.7) rotate(-90)">HFt-AF488</text>
<rect x="27.8" y="390" width="13.4" height="64" fill="#fff" stroke="#111" stroke-width="1"/>
<text font-size="10.3" text-anchor="middle" transform="translate(38.21 422) rotate(-90) scale(1.04 1)">Control</text>
<clipPath id="cp9"><rect x="43.4" y="389.5" width="65.1" height="65"/></clipPath>
<rect x="43.4" y="389.5" width="65.1" height="65" fill="#000"/>
<g clip-path="url(#cp9)"><g transform="translate(43.4 389.5)" style="isolation:isolate">
<g filter="url(#ptex)" style="mix-blend-mode:screen"><ellipse cx="13.9" cy="6.5" rx="8.67" ry="8.67" fill="#3cff28" fill-opacity="0" stroke="#3cff28" stroke-opacity="0.13" stroke-width="5.1"/>
<ellipse cx="42.5" cy="5.5" rx="9.87" ry="4.59" fill="#3cff28" fill-opacity="0" stroke="#3cff28" stroke-opacity="0.14" stroke-width="2.7" transform="rotate(8 42.5 5.5)"/>
<ellipse cx="31.3" cy="35.2" rx="9.69" ry="9.69" fill="#3cff28" fill-opacity="0" stroke="#3cff28" stroke-opacity="0.18" stroke-width="5.7"/>
<ellipse cx="6.7" cy="44.3" rx="8.67" ry="9.33" fill="#3cff28" fill-opacity="0" stroke="#3cff28" stroke-opacity="0.14" stroke-width="5.1"/>
<ellipse cx="54.8" cy="49" rx="13.44" ry="8.16" fill="#3cff28" fill-opacity="0" stroke="#3cff28" stroke-opacity="0.15" stroke-width="4.8" transform="rotate(-8 54.8 49)"/>
<ellipse cx="42" cy="59" rx="6.06" ry="1.84" fill="#3cff28" fill-opacity="0" stroke="#3cff28" stroke-opacity="0.13" stroke-width="1.08" transform="rotate(-40 42 59)"/>
<ellipse cx="0.5" cy="22" rx="2.04" ry="4.68" fill="#3cff28" fill-opacity="0" stroke="#3cff28" stroke-opacity="0.14" stroke-width="1.2"/></g>
<g filter="url(#ptex)" style="mix-blend-mode:screen"><path fill-rule="evenodd" fill="url(#gg)" opacity="0.72" d="M5.4 6.5 a8.5 8.5 0 1 0 17 0 a8.5 8.5 0 1 0 -17 0 Z M9.5 8.2 a4 3.4 0 1 0 8 0 a4 3.4 0 1 0 -8 0 Z"/>
<path fill-rule="evenodd" fill="url(#gg)" opacity="0.8" transform="rotate(8 42.5 5.5)" d="M34 5.5 a8.5 4.5 0 1 0 17 0 a8.5 4.5 0 1 0 -17 0 Z M39.5 5.5 a3 2.55 0 1 0 6 0 a3 2.55 0 1 0 -6 0 Z"/>
<path fill-rule="evenodd" fill="url(#gg)" opacity="1" d="M21.8 35.2 a9.5 9.5 0 1 0 19 0 a9.5 9.5 0 1 0 -19 0 Z M24.2 38 a3.8 3.23 0 1 0 7.6 0 a3.8 3.23 0 1 0 -7.6 0 Z"/>
<path fill-rule="evenodd" fill="url(#gg)" opacity="0.8" d="M-1.8 44.3 a8.5 9 0 1 0 17 0 a8.5 9 0 1 0 -17 0 Z M2.6 42.5 a4.2 3.57 0 1 0 8.4 0 a4.2 3.57 0 1 0 -8.4 0 Z"/>
<path fill-rule="evenodd" fill="url(#gg)" opacity="0.85" transform="rotate(-8 54.8 49)" d="M42.8 49 a12 8 0 1 0 24 0 a12 8 0 1 0 -24 0 Z M46.9 48.8 a3.4 2.89 0 1 0 6.8 0 a3.4 2.89 0 1 0 -6.8 0 Z M57.3 48.6 a3.2 2.72 0 1 0 6.4 0 a3.2 2.72 0 1 0 -6.4 0 Z"/>
<ellipse cx="42" cy="59" rx="5" ry="1.8" fill="url(#gg)" opacity="0.7" transform="rotate(-40 42 59)"/>
<ellipse cx="0.5" cy="22" rx="2" ry="4" fill="url(#gg)" opacity="0.8"/></g>
<g filter="url(#soft)" style="mix-blend-mode:screen"><ellipse cx="50" cy="15" rx="7" ry="5" fill="url(#ggd)" opacity="0.4" transform="rotate(20 50 15)"/></g>
</g></g>
<clipPath id="cp10"><rect x="110.6" y="389.5" width="65.1" height="65"/></clipPath>
<rect x="110.6" y="389.5" width="65.1" height="65" fill="#000"/>
<g clip-path="url(#cp10)"><g transform="translate(110.6 389.5)" style="isolation:isolate">
<g filter="url(#ptex)" style="mix-blend-mode:screen"><ellipse cx="12.9" cy="6.5" rx="9.84" ry="9.18" fill="#ff2a1e" fill-opacity="0" stroke="#ff2a1e" stroke-opacity="0.16" stroke-width="5.4"/>
<ellipse cx="50.7" cy="13.7" rx="10.23" ry="5.61" fill="#ff2a1e" fill-opacity="0" stroke="#ff2a1e" stroke-opacity="0.18" stroke-width="3.3" transform="rotate(-12 50.7 13.7)"/>
<ellipse cx="41" cy="6" rx="6.72" ry="4.08" fill="#ff2a1e" fill-opacity="0" stroke="#ff2a1e" stroke-opacity="0.08" stroke-width="2.4" transform="rotate(8 41 6)"/>
<ellipse cx="31.3" cy="35.2" rx="10.2" ry="10.2" fill="#ff2a1e" fill-opacity="0" stroke="#ff2a1e" stroke-opacity="0.18" stroke-width="6"/>
<ellipse cx="7.8" cy="44.3" rx="8.67" ry="9.33" fill="#ff2a1e" fill-opacity="0" stroke="#ff2a1e" stroke-opacity="0.16" stroke-width="5.1"/>
<ellipse cx="55.5" cy="49" rx="11.31" ry="8.67" fill="#ff2a1e" fill-opacity="0" stroke="#ff2a1e" stroke-opacity="0.16" stroke-width="5.1"/>
<ellipse cx="0.5" cy="20" rx="1.53" ry="4.83" fill="#ff2a1e" fill-opacity="0" stroke="#ff2a1e" stroke-opacity="0.14" stroke-width="0.9"/></g>
<g filter="url(#ptex)" style="mix-blend-mode:screen"><path fill-rule="evenodd" fill="url(#gr)" opacity="0.9" d="M3.4 6.5 a9.5 9 0 1 0 19 0 a9.5 9 0 1 0 -19 0 Z M9.7 8.2 a3.8 3.23 0 1 0 7.6 0 a3.8 3.23 0 1 0 -7.6 0 Z"/>
<ellipse cx="50.7" cy="13.7" rx="9" ry="5.5" fill="url(#gr)" opacity="1" transform="rotate(-12 50.7 13.7)"/>
<ellipse cx="41" cy="6" rx="6" ry="4" fill="url(#gr)" opacity="0.45" transform="rotate(8 41 6)"/>
<path fill-rule="evenodd" fill="url(#gr)" opacity="1" d="M21.3 35.2 a10 10 0 1 0 20 0 a10 10 0 1 0 -20 0 Z M24.4 38 a3.6 3.06 0 1 0 7.2 0 a3.6 3.06 0 1 0 -7.2 0 Z"/>
<path fill-rule="evenodd" fill="url(#gr)" opacity="0.9" d="M-0.7 44.3 a8.5 9 0 1 0 17 0 a8.5 9 0 1 0 -17 0 Z M2.8 42.5 a4 3.4 0 1 0 8 0 a4 3.4 0 1 0 -8 0 Z"/>
<path fill-rule="evenodd" fill="url(#gr)" opacity="0.9" d="M45 49 a10.5 8.5 0 1 0 21 0 a10.5 8.5 0 1 0 -21 0 Z M47.3 48.8 a3.2 2.72 0 1 0 6.4 0 a3.2 2.72 0 1 0 -6.4 0 Z M57.5 48.6 a3 2.55 0 1 0 6 0 a3 2.55 0 1 0 -6 0 Z"/>
<ellipse cx="0.5" cy="20" rx="1.5" ry="4" fill="url(#gr)" opacity="0.8"/></g>
</g></g>
<clipPath id="cp11"><rect x="177.9" y="389.5" width="65.1" height="65"/></clipPath>
<rect x="177.9" y="389.5" width="65.1" height="65" fill="#000"/>
<g clip-path="url(#cp11)"><g transform="translate(177.9 389.5)" style="isolation:isolate">
<g filter="url(#nuc)" style="mix-blend-mode:screen"><ellipse cx="12.9" cy="7.6" rx="4.46" ry="3.35" fill="#1c18f4" fill-opacity="1" transform="rotate(10 12.9 7.6)"/>
<ellipse cx="42.3" cy="5.5" rx="3.91" ry="3.35" fill="#1c18f4" fill-opacity="1" transform="rotate(-10 42.3 5.5)"/>
<ellipse cx="59.7" cy="12.7" rx="4.65" ry="4.09" fill="#1c18f4" fill-opacity="0.8" transform="rotate(-20 59.7 12.7)"/>
<ellipse cx="27.6" cy="38.2" rx="3.72" ry="3.91" fill="#1c18f4" fill-opacity="1"/>
<ellipse cx="6.5" cy="42.3" rx="4.65" ry="3.91" fill="#1c18f4" fill-opacity="1" transform="rotate(-10 6.5 42.3)"/>
<ellipse cx="50.1" cy="48.4" rx="3.63" ry="4.46" fill="#1c18f4" fill-opacity="1"/>
<ellipse cx="60.7" cy="48.4" rx="3.44" ry="4.19" fill="#1c18f4" fill-opacity="1" transform="rotate(10 60.7 48.4)"/></g>
</g></g>
<clipPath id="cp12"><rect x="245.1" y="389.5" width="65.1" height="65"/></clipPath>
<rect x="245.1" y="389.5" width="65.1" height="65" fill="#000"/>
<g clip-path="url(#cp12)"><g transform="translate(245.1 389.5)" style="isolation:isolate">
<g filter="url(#ptex)" style="mix-blend-mode:screen"><ellipse cx="12.9" cy="6.5" rx="9.84" ry="9.18" fill="#ff2a1e" fill-opacity="0" stroke="#ff2a1e" stroke-opacity="0.16" stroke-width="5.4"/>
<ellipse cx="50.7" cy="13.7" rx="10.23" ry="5.61" fill="#ff2a1e" fill-opacity="0" stroke="#ff2a1e" stroke-opacity="0.18" stroke-width="3.3" transform="rotate(-12 50.7 13.7)"/>
<ellipse cx="41" cy="6" rx="6.72" ry="4.08" fill="#ff2a1e" fill-opacity="0" stroke="#ff2a1e" stroke-opacity="0.08" stroke-width="2.4" transform="rotate(8 41 6)"/>
<ellipse cx="31.3" cy="35.2" rx="10.2" ry="10.2" fill="#ff2a1e" fill-opacity="0" stroke="#ff2a1e" stroke-opacity="0.18" stroke-width="6"/>
<ellipse cx="7.8" cy="44.3" rx="8.67" ry="9.33" fill="#ff2a1e" fill-opacity="0" stroke="#ff2a1e" stroke-opacity="0.16" stroke-width="5.1"/>
<ellipse cx="55.5" cy="49" rx="11.31" ry="8.67" fill="#ff2a1e" fill-opacity="0" stroke="#ff2a1e" stroke-opacity="0.16" stroke-width="5.1"/>
<ellipse cx="0.5" cy="20" rx="1.53" ry="4.83" fill="#ff2a1e" fill-opacity="0" stroke="#ff2a1e" stroke-opacity="0.14" stroke-width="0.9"/></g>
<g filter="url(#ptex)" style="mix-blend-mode:screen"><path fill-rule="evenodd" fill="url(#gr)" opacity="0.9" d="M3.4 6.5 a9.5 9 0 1 0 19 0 a9.5 9 0 1 0 -19 0 Z M9.7 8.2 a3.8 3.23 0 1 0 7.6 0 a3.8 3.23 0 1 0 -7.6 0 Z"/>
<ellipse cx="50.7" cy="13.7" rx="9" ry="5.5" fill="url(#gr)" opacity="1" transform="rotate(-12 50.7 13.7)"/>
<ellipse cx="41" cy="6" rx="6" ry="4" fill="url(#gr)" opacity="0.45" transform="rotate(8 41 6)"/>
<path fill-rule="evenodd" fill="url(#gr)" opacity="1" d="M21.3 35.2 a10 10 0 1 0 20 0 a10 10 0 1 0 -20 0 Z M24.4 38 a3.6 3.06 0 1 0 7.2 0 a3.6 3.06 0 1 0 -7.2 0 Z"/>
<path fill-rule="evenodd" fill="url(#gr)" opacity="0.9" d="M-0.7 44.3 a8.5 9 0 1 0 17 0 a8.5 9 0 1 0 -17 0 Z M2.8 42.5 a4 3.4 0 1 0 8 0 a4 3.4 0 1 0 -8 0 Z"/>
<path fill-rule="evenodd" fill="url(#gr)" opacity="0.9" d="M45 49 a10.5 8.5 0 1 0 21 0 a10.5 8.5 0 1 0 -21 0 Z M47.3 48.8 a3.2 2.72 0 1 0 6.4 0 a3.2 2.72 0 1 0 -6.4 0 Z M57.5 48.6 a3 2.55 0 1 0 6 0 a3 2.55 0 1 0 -6 0 Z"/>
<ellipse cx="0.5" cy="20" rx="1.5" ry="4" fill="url(#gr)" opacity="0.8"/></g>
<g filter="url(#ptex)" style="mix-blend-mode:screen"><ellipse cx="13.9" cy="6.5" rx="8.67" ry="8.67" fill="#3cff28" fill-opacity="0" stroke="#3cff28" stroke-opacity="0.13" stroke-width="5.1"/>
<ellipse cx="42.5" cy="5.5" rx="9.87" ry="4.59" fill="#3cff28" fill-opacity="0" stroke="#3cff28" stroke-opacity="0.14" stroke-width="2.7" transform="rotate(8 42.5 5.5)"/>
<ellipse cx="31.3" cy="35.2" rx="9.69" ry="9.69" fill="#3cff28" fill-opacity="0" stroke="#3cff28" stroke-opacity="0.18" stroke-width="5.7"/>
<ellipse cx="6.7" cy="44.3" rx="8.67" ry="9.33" fill="#3cff28" fill-opacity="0" stroke="#3cff28" stroke-opacity="0.14" stroke-width="5.1"/>
<ellipse cx="54.8" cy="49" rx="13.44" ry="8.16" fill="#3cff28" fill-opacity="0" stroke="#3cff28" stroke-opacity="0.15" stroke-width="4.8" transform="rotate(-8 54.8 49)"/>
<ellipse cx="42" cy="59" rx="6.06" ry="1.84" fill="#3cff28" fill-opacity="0" stroke="#3cff28" stroke-opacity="0.13" stroke-width="1.08" transform="rotate(-40 42 59)"/>
<ellipse cx="0.5" cy="22" rx="2.04" ry="4.68" fill="#3cff28" fill-opacity="0" stroke="#3cff28" stroke-opacity="0.14" stroke-width="1.2"/></g>
<g filter="url(#ptex)" style="mix-blend-mode:screen"><path fill-rule="evenodd" fill="url(#gg)" opacity="0.72" d="M5.4 6.5 a8.5 8.5 0 1 0 17 0 a8.5 8.5 0 1 0 -17 0 Z M9.5 8.2 a4 3.4 0 1 0 8 0 a4 3.4 0 1 0 -8 0 Z"/>
<path fill-rule="evenodd" fill="url(#gg)" opacity="0.8" transform="rotate(8 42.5 5.5)" d="M34 5.5 a8.5 4.5 0 1 0 17 0 a8.5 4.5 0 1 0 -17 0 Z M39.5 5.5 a3 2.55 0 1 0 6 0 a3 2.55 0 1 0 -6 0 Z"/>
<path fill-rule="evenodd" fill="url(#gg)" opacity="1" d="M21.8 35.2 a9.5 9.5 0 1 0 19 0 a9.5 9.5 0 1 0 -19 0 Z M24.2 38 a3.8 3.23 0 1 0 7.6 0 a3.8 3.23 0 1 0 -7.6 0 Z"/>
<path fill-rule="evenodd" fill="url(#gg)" opacity="0.8" d="M-1.8 44.3 a8.5 9 0 1 0 17 0 a8.5 9 0 1 0 -17 0 Z M2.6 42.5 a4.2 3.57 0 1 0 8.4 0 a4.2 3.57 0 1 0 -8.4 0 Z"/>
<path fill-rule="evenodd" fill="url(#gg)" opacity="0.85" transform="rotate(-8 54.8 49)" d="M42.8 49 a12 8 0 1 0 24 0 a12 8 0 1 0 -24 0 Z M46.9 48.8 a3.4 2.89 0 1 0 6.8 0 a3.4 2.89 0 1 0 -6.8 0 Z M57.3 48.6 a3.2 2.72 0 1 0 6.4 0 a3.2 2.72 0 1 0 -6.4 0 Z"/>
<ellipse cx="42" cy="59" rx="5" ry="1.8" fill="url(#gg)" opacity="0.7" transform="rotate(-40 42 59)"/>
<ellipse cx="0.5" cy="22" rx="2" ry="4" fill="url(#gg)" opacity="0.8"/></g>
<g filter="url(#soft)" style="mix-blend-mode:screen"><ellipse cx="50" cy="15" rx="7" ry="5" fill="url(#ggd)" opacity="0.4" transform="rotate(20 50 15)"/></g>
<g filter="url(#nuc)" opacity="0.84"><ellipse cx="12.9" cy="7.6" rx="4.46" ry="3.35" fill="#3a2cff" fill-opacity="1" transform="rotate(10 12.9 7.6)"/>
<ellipse cx="42.3" cy="5.5" rx="3.91" ry="3.35" fill="#3a2cff" fill-opacity="1" transform="rotate(-10 42.3 5.5)"/>
<ellipse cx="59.7" cy="12.7" rx="4.65" ry="4.09" fill="#3a2cff" fill-opacity="0.8" transform="rotate(-20 59.7 12.7)"/>
<ellipse cx="27.6" cy="38.2" rx="3.72" ry="3.91" fill="#3a2cff" fill-opacity="1"/>
<ellipse cx="6.5" cy="42.3" rx="4.65" ry="3.91" fill="#3a2cff" fill-opacity="1" transform="rotate(-10 6.5 42.3)"/>
<ellipse cx="50.1" cy="48.4" rx="3.63" ry="4.46" fill="#3a2cff" fill-opacity="1"/>
<ellipse cx="60.7" cy="48.4" rx="3.44" ry="4.19" fill="#3a2cff" fill-opacity="1" transform="rotate(10 60.7 48.4)"/></g>
</g></g>
<rect x="291.5" y="448.9" width="15.7" height="3.4" fill="#fff"/>
<rect x="27.8" y="457.4" width="13.4" height="64" fill="#fff" stroke="#111" stroke-width="1"/>
<text font-size="10.3" text-anchor="middle" transform="translate(38.21 489.4) rotate(-90) scale(1.04 1)">Dynasore</text>
<clipPath id="cp13"><rect x="43.4" y="456.9" width="65.1" height="65"/></clipPath>
<rect x="43.4" y="456.9" width="65.1" height="65" fill="#000"/>
<g clip-path="url(#cp13)"><g transform="translate(43.4 456.9)" style="isolation:isolate">
<g filter="url(#ptex)" style="mix-blend-mode:screen"><ellipse cx="18" cy="10.2" rx="8.82" ry="8.16" fill="#3cff28" fill-opacity="0" stroke="#3cff28" stroke-opacity="0.11" stroke-width="4.8"/>
<ellipse cx="60.9" cy="8.2" rx="9.18" ry="10.5" fill="#3cff28" fill-opacity="0" stroke="#3cff28" stroke-opacity="0.12" stroke-width="5.4"/>
<ellipse cx="29.8" cy="30.7" rx="5.3" ry="5.3" fill="#3cff28" fill-opacity="0" stroke="#3cff28" stroke-opacity="0.13" stroke-width="3.12"/>
<ellipse cx="41.9" cy="42.9" rx="6.94" ry="6.94" fill="#3cff28" fill-opacity="0" stroke="#3cff28" stroke-opacity="0.13" stroke-width="4.08"/>
<ellipse cx="28.2" cy="54.2" rx="7.34" ry="7.34" fill="#3cff28" fill-opacity="0" stroke="#3cff28" stroke-opacity="0.12" stroke-width="4.32"/>
<ellipse cx="3.7" cy="36.8" rx="5.1" ry="6.42" fill="#3cff28" fill-opacity="0" stroke="#3cff28" stroke-opacity="0.09" stroke-width="3" transform="rotate(20 3.7 36.8)"/>
<ellipse cx="45.6" cy="61.3" rx="4.89" ry="1.33" fill="#3cff28" fill-opacity="0" stroke="#3cff28" stroke-opacity="0.13" stroke-width="0.78" transform="rotate(35 45.6 61.3)"/></g>
<g filter="url(#ptex)" style="mix-blend-mode:screen"><ellipse cx="18" cy="10.2" rx="7.4" ry="6.9" fill="#3cff28" fill-opacity="0.19" stroke="#3cff28" stroke-opacity="0.62" stroke-width="2.2"/>
<ellipse cx="60.9" cy="8.2" rx="9" ry="10" fill="url(#gg)" opacity="0.65"/>
<ellipse cx="29.8" cy="30.7" rx="4.3" ry="4.3" fill="#3cff28" fill-opacity="0.1" stroke="#3cff28" stroke-opacity="0.7" stroke-width="1.8"/>
<ellipse cx="41.9" cy="42.9" rx="5.6" ry="5.6" fill="#3cff28" fill-opacity="0.14" stroke="#3cff28" stroke-opacity="0.72" stroke-width="2.4"/>
<ellipse cx="28.2" cy="54.2" rx="6.2" ry="6.2" fill="#3cff28" fill-opacity="0.1" stroke="#3cff28" stroke-opacity="0.65" stroke-width="2"/>
<ellipse cx="3.7" cy="36.8" rx="5" ry="6" fill="url(#gg)" opacity="0.5" transform="rotate(20 3.7 36.8)"/>
<ellipse cx="45.6" cy="61.3" rx="4" ry="1.3" fill="url(#gg)" opacity="0.7" transform="rotate(35 45.6 61.3)"/></g>
</g></g>
<clipPath id="cp14"><rect x="110.6" y="456.9" width="65.1" height="65"/></clipPath>
<rect x="110.6" y="456.9" width="65.1" height="65" fill="#000"/>
<g clip-path="url(#cp14)"><g transform="translate(110.6 456.9)" style="isolation:isolate">
<g filter="url(#ptex)" style="mix-blend-mode:screen"><ellipse cx="18" cy="9.2" rx="8.67" ry="8.67" fill="#ff2a1e" fill-opacity="0" stroke="#ff2a1e" stroke-opacity="0.17" stroke-width="5.1"/>
<ellipse cx="60.9" cy="7.2" rx="9.18" ry="10.5" fill="#ff2a1e" fill-opacity="0" stroke="#ff2a1e" stroke-opacity="0.18" stroke-width="5.4"/>
<ellipse cx="30.2" cy="30.7" rx="5.1" ry="5.1" fill="#ff2a1e" fill-opacity="0" stroke="#ff2a1e" stroke-opacity="0.17" stroke-width="3"/>
<ellipse cx="42.5" cy="42.9" rx="7.14" ry="7.14" fill="#ff2a1e" fill-opacity="0" stroke="#ff2a1e" stroke-opacity="0.17" stroke-width="4.2"/>
<ellipse cx="28.2" cy="53.1" rx="7.65" ry="7.65" fill="#ff2a1e" fill-opacity="0" stroke="#ff2a1e" stroke-opacity="0.17" stroke-width="4.5"/>
<ellipse cx="3.7" cy="39.9" rx="6.63" ry="12.57" fill="#ff2a1e" fill-opacity="0" stroke="#ff2a1e" stroke-opacity="0.18" stroke-width="3.9" transform="rotate(10 3.7 39.9)"/>
<ellipse cx="1.5" cy="23" rx="2.55" ry="3.21" fill="#ff2a1e" fill-opacity="0" stroke="#ff2a1e" stroke-opacity="0.16" stroke-width="1.5"/>
<ellipse cx="63.5" cy="41.9" rx="3.06" ry="5.04" fill="#ff2a1e" fill-opacity="0" stroke="#ff2a1e" stroke-opacity="0.16" stroke-width="1.8"/>
<ellipse cx="47" cy="61.5" rx="4.86" ry="1.43" fill="#ff2a1e" fill-opacity="0" stroke="#ff2a1e" stroke-opacity="0.14" stroke-width="0.84" transform="rotate(35 47 61.5)"/></g>
<g filter="url(#ptex)" style="mix-blend-mode:screen"><path fill-rule="evenodd" fill="url(#gr)" opacity="0.95" d="M9.5 9.2 a8.5 8.5 0 1 0 17 0 a8.5 8.5 0 1 0 -17 0 Z M14 6.5 a3 2.55 0 1 0 6 0 a3 2.55 0 1 0 -6 0 Z"/>
<ellipse cx="60.9" cy="7.2" rx="9" ry="10" fill="url(#gr)" opacity="1"/>
<ellipse cx="30.2" cy="30.7" rx="4" ry="4" fill="#ff2a1e" fill-opacity="0.71" stroke="#ff2a1e" stroke-opacity="0.95" stroke-width="2"/>
<path fill-rule="evenodd" fill="url(#gr)" opacity="0.95" d="M35.5 42.9 a7 7 0 1 0 14 0 a7 7 0 1 0 -14 0 Z M38.9 44.5 a2.6 2.21 0 1 0 5.2 0 a2.6 2.21 0 1 0 -5.2 0 Z"/>
<path fill-rule="evenodd" fill="url(#gr)" opacity="0.95" d="M20.7 53.1 a7.5 7.5 0 1 0 15 0 a7.5 7.5 0 1 0 -15 0 Z M25 52 a3 2.55 0 1 0 6 0 a3 2.55 0 1 0 -6 0 Z"/>
<ellipse cx="3.7" cy="39.9" rx="6.5" ry="11" fill="url(#gr)" opacity="1" transform="rotate(10 3.7 39.9)"/>
<ellipse cx="1.5" cy="23" rx="2.5" ry="3" fill="url(#gr)" opacity="0.9"/>
<ellipse cx="63.5" cy="41.9" rx="3" ry="4.5" fill="url(#gr)" opacity="0.9"/>
<ellipse cx="47" cy="61.5" rx="4" ry="1.4" fill="url(#gr)" opacity="0.8" transform="rotate(35 47 61.5)"/></g>
</g></g>
<clipPath id="cp15"><rect x="177.9" y="456.9" width="65.1" height="65"/></clipPath>
<rect x="177.9" y="456.9" width="65.1" height="65" fill="#000"/>
<g clip-path="url(#cp15)"><g transform="translate(177.9 456.9)" style="isolation:isolate">
<g filter="url(#nuc)" style="mix-blend-mode:screen"><ellipse cx="15.3" cy="5.7" rx="3.72" ry="3.26" fill="#1c18f4" fill-opacity="1" transform="rotate(-10 15.3 5.7)"/>
<ellipse cx="30.2" cy="29.6" rx="3.44" ry="2.79" fill="#1c18f4" fill-opacity="1" transform="rotate(-10 30.2 29.6)"/>
<ellipse cx="41.3" cy="44.6" rx="4.19" ry="3.63" fill="#1c18f4" fill-opacity="1" transform="rotate(15 41.3 44.6)"/>
<ellipse cx="28" cy="52.7" rx="4.93" ry="4.19" fill="#1c18f4" fill-opacity="1" transform="rotate(-10 28 52.7)"/>
<ellipse cx="47" cy="62.9" rx="3.72" ry="2.33" fill="#1c18f4" fill-opacity="1" transform="rotate(10 47 62.9)"/>
<ellipse cx="63.6" cy="16.4" rx="1.4" ry="2.79" fill="#1c18f4" fill-opacity="0.9"/>
<ellipse cx="0.2" cy="22.5" rx="0.74" ry="1.4" fill="#1c18f4" fill-opacity="0.9"/></g>
</g></g>
<clipPath id="cp16"><rect x="245.1" y="456.9" width="65.1" height="65"/></clipPath>
<rect x="245.1" y="456.9" width="65.1" height="65" fill="#000"/>
<g clip-path="url(#cp16)"><g transform="translate(245.1 456.9)" style="isolation:isolate">
<g filter="url(#ptex)" style="mix-blend-mode:screen"><ellipse cx="18" cy="9.2" rx="8.67" ry="8.67" fill="#ff2a1e" fill-opacity="0" stroke="#ff2a1e" stroke-opacity="0.17" stroke-width="5.1"/>
<ellipse cx="60.9" cy="7.2" rx="9.18" ry="10.5" fill="#ff2a1e" fill-opacity="0" stroke="#ff2a1e" stroke-opacity="0.18" stroke-width="5.4"/>
<ellipse cx="30.2" cy="30.7" rx="5.1" ry="5.1" fill="#ff2a1e" fill-opacity="0" stroke="#ff2a1e" stroke-opacity="0.17" stroke-width="3"/>
<ellipse cx="42.5" cy="42.9" rx="7.14" ry="7.14" fill="#ff2a1e" fill-opacity="0" stroke="#ff2a1e" stroke-opacity="0.17" stroke-width="4.2"/>
<ellipse cx="28.2" cy="53.1" rx="7.65" ry="7.65" fill="#ff2a1e" fill-opacity="0" stroke="#ff2a1e" stroke-opacity="0.17" stroke-width="4.5"/>
<ellipse cx="3.7" cy="39.9" rx="6.63" ry="12.57" fill="#ff2a1e" fill-opacity="0" stroke="#ff2a1e" stroke-opacity="0.18" stroke-width="3.9" transform="rotate(10 3.7 39.9)"/>
<ellipse cx="1.5" cy="23" rx="2.55" ry="3.21" fill="#ff2a1e" fill-opacity="0" stroke="#ff2a1e" stroke-opacity="0.16" stroke-width="1.5"/>
<ellipse cx="63.5" cy="41.9" rx="3.06" ry="5.04" fill="#ff2a1e" fill-opacity="0" stroke="#ff2a1e" stroke-opacity="0.16" stroke-width="1.8"/>
<ellipse cx="47" cy="61.5" rx="4.86" ry="1.43" fill="#ff2a1e" fill-opacity="0" stroke="#ff2a1e" stroke-opacity="0.14" stroke-width="0.84" transform="rotate(35 47 61.5)"/></g>
<g filter="url(#ptex)" style="mix-blend-mode:screen"><path fill-rule="evenodd" fill="url(#gr)" opacity="0.95" d="M9.5 9.2 a8.5 8.5 0 1 0 17 0 a8.5 8.5 0 1 0 -17 0 Z M14 6.5 a3 2.55 0 1 0 6 0 a3 2.55 0 1 0 -6 0 Z"/>
<ellipse cx="60.9" cy="7.2" rx="9" ry="10" fill="url(#gr)" opacity="1"/>
<ellipse cx="30.2" cy="30.7" rx="4" ry="4" fill="#ff2a1e" fill-opacity="0.71" stroke="#ff2a1e" stroke-opacity="0.95" stroke-width="2"/>
<path fill-rule="evenodd" fill="url(#gr)" opacity="0.95" d="M35.5 42.9 a7 7 0 1 0 14 0 a7 7 0 1 0 -14 0 Z M38.9 44.5 a2.6 2.21 0 1 0 5.2 0 a2.6 2.21 0 1 0 -5.2 0 Z"/>
<path fill-rule="evenodd" fill="url(#gr)" opacity="0.95" d="M20.7 53.1 a7.5 7.5 0 1 0 15 0 a7.5 7.5 0 1 0 -15 0 Z M25 52 a3 2.55 0 1 0 6 0 a3 2.55 0 1 0 -6 0 Z"/>
<ellipse cx="3.7" cy="39.9" rx="6.5" ry="11" fill="url(#gr)" opacity="1" transform="rotate(10 3.7 39.9)"/>
<ellipse cx="1.5" cy="23" rx="2.5" ry="3" fill="url(#gr)" opacity="0.9"/>
<ellipse cx="63.5" cy="41.9" rx="3" ry="4.5" fill="url(#gr)" opacity="0.9"/>
<ellipse cx="47" cy="61.5" rx="4" ry="1.4" fill="url(#gr)" opacity="0.8" transform="rotate(35 47 61.5)"/></g>
<g filter="url(#ptex)" style="mix-blend-mode:screen"><ellipse cx="18" cy="10.2" rx="8.82" ry="8.16" fill="#3cff28" fill-opacity="0" stroke="#3cff28" stroke-opacity="0.11" stroke-width="4.8"/>
<ellipse cx="60.9" cy="8.2" rx="9.18" ry="10.5" fill="#3cff28" fill-opacity="0" stroke="#3cff28" stroke-opacity="0.12" stroke-width="5.4"/>
<ellipse cx="29.8" cy="30.7" rx="5.3" ry="5.3" fill="#3cff28" fill-opacity="0" stroke="#3cff28" stroke-opacity="0.13" stroke-width="3.12"/>
<ellipse cx="41.9" cy="42.9" rx="6.94" ry="6.94" fill="#3cff28" fill-opacity="0" stroke="#3cff28" stroke-opacity="0.13" stroke-width="4.08"/>
<ellipse cx="28.2" cy="54.2" rx="7.34" ry="7.34" fill="#3cff28" fill-opacity="0" stroke="#3cff28" stroke-opacity="0.12" stroke-width="4.32"/>
<ellipse cx="3.7" cy="36.8" rx="5.1" ry="6.42" fill="#3cff28" fill-opacity="0" stroke="#3cff28" stroke-opacity="0.09" stroke-width="3" transform="rotate(20 3.7 36.8)"/>
<ellipse cx="45.6" cy="61.3" rx="4.89" ry="1.33" fill="#3cff28" fill-opacity="0" stroke="#3cff28" stroke-opacity="0.13" stroke-width="0.78" transform="rotate(35 45.6 61.3)"/></g>
<g filter="url(#ptex)" style="mix-blend-mode:screen"><ellipse cx="18" cy="10.2" rx="7.4" ry="6.9" fill="#3cff28" fill-opacity="0.19" stroke="#3cff28" stroke-opacity="0.62" stroke-width="2.2"/>
<ellipse cx="60.9" cy="8.2" rx="9" ry="10" fill="url(#gg)" opacity="0.65"/>
<ellipse cx="29.8" cy="30.7" rx="4.3" ry="4.3" fill="#3cff28" fill-opacity="0.1" stroke="#3cff28" stroke-opacity="0.7" stroke-width="1.8"/>
<ellipse cx="41.9" cy="42.9" rx="5.6" ry="5.6" fill="#3cff28" fill-opacity="0.14" stroke="#3cff28" stroke-opacity="0.72" stroke-width="2.4"/>
<ellipse cx="28.2" cy="54.2" rx="6.2" ry="6.2" fill="#3cff28" fill-opacity="0.1" stroke="#3cff28" stroke-opacity="0.65" stroke-width="2"/>
<ellipse cx="3.7" cy="36.8" rx="5" ry="6" fill="url(#gg)" opacity="0.5" transform="rotate(20 3.7 36.8)"/>
<ellipse cx="45.6" cy="61.3" rx="4" ry="1.3" fill="url(#gg)" opacity="0.7" transform="rotate(35 45.6 61.3)"/></g>
<g filter="url(#nuc)" opacity="0.84"><ellipse cx="15.3" cy="5.7" rx="3.72" ry="3.26" fill="#3a2cff" fill-opacity="1" transform="rotate(-10 15.3 5.7)"/>
<ellipse cx="30.2" cy="29.6" rx="3.44" ry="2.79" fill="#3a2cff" fill-opacity="1" transform="rotate(-10 30.2 29.6)"/>
<ellipse cx="41.3" cy="44.6" rx="4.19" ry="3.63" fill="#3a2cff" fill-opacity="1" transform="rotate(15 41.3 44.6)"/>
<ellipse cx="28" cy="52.7" rx="4.93" ry="4.19" fill="#3a2cff" fill-opacity="1" transform="rotate(-10 28 52.7)"/>
<ellipse cx="47" cy="62.9" rx="3.72" ry="2.33" fill="#3a2cff" fill-opacity="1" transform="rotate(10 47 62.9)"/>
<ellipse cx="63.6" cy="16.4" rx="1.4" ry="2.79" fill="#3a2cff" fill-opacity="0.9"/>
<ellipse cx="0.2" cy="22.5" rx="0.74" ry="1.4" fill="#3a2cff" fill-opacity="0.9"/></g>
</g></g>
<rect x="291.5" y="514" width="15.7" height="3.3" fill="#fff"/>
<text font-size="10.3" text-anchor="start" font-weight="bold" transform="translate(0.8 213.4) scale(1.08 1)">d</text>
<linearGradient id="bd1" x1="0" y1="0" x2="0" y2="1"><stop offset="0" stop-color="#b0b0b0"/><stop offset="1" stop-color="#c4c4c4"/></linearGradient>
<rect x="35.3" y="247.8" width="94.8" height="29.7" fill="url(#bd1)"/>
<linearGradient id="bd2" x1="0" y1="0" x2="0" y2="1"><stop offset="0" stop-color="#cfcfcf"/><stop offset="1" stop-color="#d6d6d6"/></linearGradient>
<rect x="35.3" y="278.9" width="94.8" height="33" fill="url(#bd2)"/>
<rect x="39.2" y="261.2" width="18" height="2.6" rx="1.3" fill="#0c0c0c" opacity="1" filter="url(#band)"/>
<rect x="62.2" y="261.3" width="18.8" height="3.3" rx="1.65" fill="#080808" opacity="1" filter="url(#band)" transform="rotate(2 71.6 262.95)"/>
<rect x="86" y="263.6" width="14" height="1" rx="0.5" fill="#777" opacity="0.25" filter="url(#band)"/>
<rect x="36.3" y="293" width="19.3" height="4.3" rx="2.15" fill="#101010" opacity="1" filter="url(#band)"/>
<rect x="34.3" y="292.6" width="23.3" height="5.2" rx="2.6" fill="#444" opacity="0.4" filter="url(#band)"/>
<rect x="57.6" y="293" width="20.4" height="4.3" rx="2.15" fill="#101010" opacity="1" filter="url(#band)"/>
<rect x="55.6" y="292.6" width="24.4" height="5.2" rx="2.6" fill="#444" opacity="0.4" filter="url(#band)"/>
<rect x="80.1" y="293" width="21.4" height="4.3" rx="2.15" fill="#101010" opacity="1" filter="url(#band)"/>
<rect x="78.1" y="292.6" width="25.4" height="5.2" rx="2.6" fill="#444" opacity="0.4" filter="url(#band)"/>
<rect x="103.6" y="293" width="23.6" height="4.3" rx="2.15" fill="#101010" opacity="1" filter="url(#band)"/>
<rect x="101.6" y="292.6" width="27.6" height="5.2" rx="2.6" fill="#444" opacity="0.4" filter="url(#band)"/>
<text font-size="9" text-anchor="end" transform="translate(33 267)">CLTC</text>
<text font-size="9" text-anchor="end" transform="translate(33.6 298.8)">GAPDH</text>
<line x1="130.4" y1="276.4" x2="134.8" y2="276.4" stroke="#000" stroke-width="0.9"/>
<text font-size="7.7" text-anchor="start" transform="translate(136.2 279.1)">130 kDa</text>
<line x1="130.4" y1="311" x2="134.8" y2="311" stroke="#000" stroke-width="0.9"/>
<text font-size="7.7" text-anchor="start" transform="translate(136.2 313.7)">35 kDa</text>
<text font-size="9.6" text-anchor="start" transform="translate(48.5 247.4) rotate(-35)">Control</text>
<text font-size="9.6" text-anchor="start" transform="translate(69 246.8) rotate(-35)">SiScr</text>
<text font-size="9.6" text-anchor="start" transform="translate(93.5 246.8) rotate(-35)">siCLTC-1</text>
<text font-size="9.6" text-anchor="start" transform="translate(119.5 246.4) rotate(-35)">siCLTC-2</text>
<text font-size="10.3" text-anchor="start" font-weight="bold" transform="translate(155 716) scale(1.08 1)">r</text>
<linearGradient id="br1" x1="0" y1="0" x2="0" y2="1"><stop offset="0" stop-color="#c6c6c6"/><stop offset="1" stop-color="#c0c0c0"/></linearGradient>
<rect x="199.1" y="758.6" width="113.9" height="29.8" fill="url(#br1)"/>
<rect x="199.1" y="758.6" width="113.9" height="29.8" fill="#555" opacity="0.5" filter="url(#grain)"/>
<linearGradient id="br2" x1="0" y1="0" x2="0" y2="1"><stop offset="0" stop-color="#b2b2b2"/><stop offset="1" stop-color="#9c9c9c"/></linearGradient>
<rect x="199.1" y="790.6" width="113.9" height="29.9" fill="url(#br2)"/>
<rect x="199.1" y="790.6" width="113.9" height="29.9" fill="#555" opacity="0.15" filter="url(#grain)"/>
<rect x="205.8" y="770" width="19" height="4.8" rx="2.4" fill="#050505" opacity="1" filter="url(#band)"/>
<rect x="231.6" y="770.8" width="19" height="3.2" rx="1.6" fill="#3a3a3a" opacity="0.75" filter="url(#band)"/>
<rect x="255" y="772" width="13" height="1.6" rx="0.8" fill="#777" opacity="0.25" filter="url(#band)"/>
<rect x="202" y="804.4" width="21.6" height="2.8" rx="1.4" fill="#161616" opacity="1" filter="url(#band)"/>
<rect x="199.5" y="803.6" width="26.6" height="4.6" rx="2.3" fill="#333" opacity="0.35" filter="url(#band)"/>
<rect x="228.4" y="804.4" width="22.2" height="2.8" rx="1.4" fill="#161616" opacity="1" filter="url(#band)"/>
<rect x="225.9" y="803.6" width="27.2" height="4.6" rx="2.3" fill="#333" opacity="0.35" filter="url(#band)"/>
<rect x="254.6" y="804.4" width="23" height="2.8" rx="1.4" fill="#161616" opacity="1" filter="url(#band)"/>
<rect x="252.1" y="803.6" width="28" height="4.6" rx="2.3" fill="#333" opacity="0.35" filter="url(#band)"/>
<rect x="280.8" y="804.4" width="28" height="2.8" rx="1.4" fill="#161616" opacity="1" filter="url(#band)"/>
<rect x="278.3" y="803.6" width="33" height="4.6" rx="2.3" fill="#333" opacity="0.35" filter="url(#band)"/>
<text font-size="8.6" text-anchor="end" transform="translate(196.5 776)">CAV-1</text>
<text font-size="8.9" text-anchor="end" transform="translate(196.5 808)">α-tubulin</text>
<line x1="313.4" y1="762" x2="318.8" y2="762" stroke="#000" stroke-width="0.9"/>
<text font-size="7.7" text-anchor="start" transform="translate(320 764.7)">25 kDa</text>
<line x1="313.4" y1="804.2" x2="318.8" y2="804.2" stroke="#000" stroke-width="0.9"/>
<text font-size="7.7" text-anchor="start" transform="translate(320 806.9)">55 kDa</text>
<text font-size="9.3" text-anchor="start" transform="translate(212.8 754.2) rotate(-35)">Control</text>
<text font-size="9.3" text-anchor="start" transform="translate(242.8 754.2) rotate(-35)">SiScr</text>
<text font-size="9.3" text-anchor="start" transform="translate(268.2 753.6) rotate(-35)">siCAV1-1</text>
<text font-size="9.3" text-anchor="start" transform="translate(297.4 753.6) rotate(-35)">siCAV1-2</text>
</svg></body></html>
